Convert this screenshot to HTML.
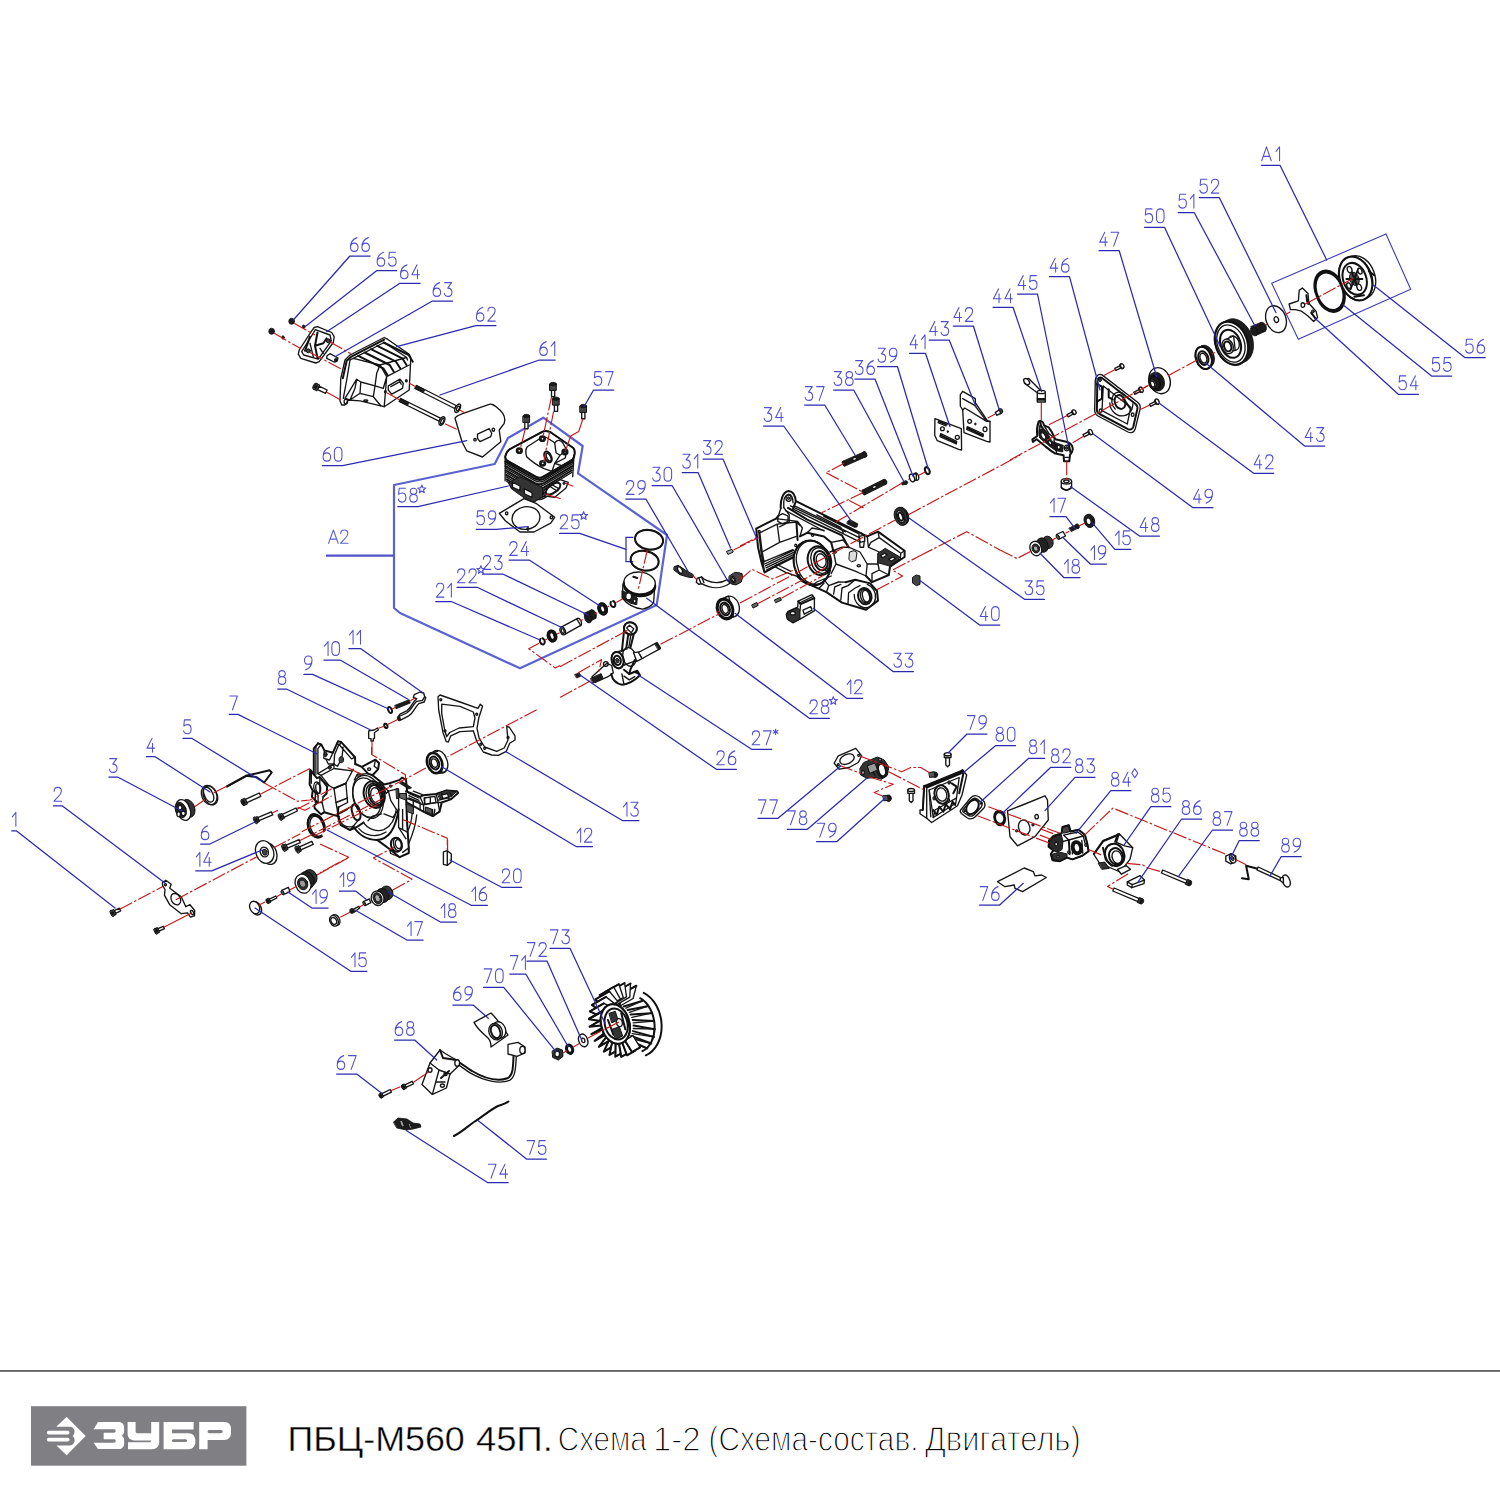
<!DOCTYPE html>
<html><head><meta charset="utf-8"><title>ПБЦ-М560 45П</title>
<style>
html,body{margin:0;padding:0;background:#fff;}
body{width:1500px;height:1500px;overflow:hidden;position:relative;font-family:"Liberation Sans",sans-serif;}
svg{position:absolute;left:0;top:0;}
.pt path{stroke-linejoin:round;stroke-linecap:round}
.w{fill:#fff;stroke:#151515;stroke-width:1.35}
.w2{fill:#fff;stroke:#111;stroke-width:2}
.fw{fill:#fff;stroke:none}
.f{fill:#1c1c1c;stroke:#111;stroke-width:.8}
.k{fill:none;stroke:#151515;stroke-width:1.35}
.k2{fill:none;stroke:#111;stroke-width:2}
.c{stroke:#111;stroke-width:1}
.r{fill:none;stroke:#c41a1a;stroke-width:1.15;stroke-dasharray:14 2.2 2.5 2.2;stroke-linecap:butt !important}
.rs{fill:none;stroke:#c41a1a;stroke-width:1.15;stroke-linecap:butt !important}
.ft{position:absolute;left:290px;top:1416px;white-space:nowrap;font-size:37px;line-height:44px;color:#000;transform-origin:0 0;}
.ft .a{display:inline-block;transform-origin:0 50%;}
.ft .b{display:inline-block;color:#111;-webkit-text-stroke:1.5px #fff;transform-origin:0 50%;}
</style></head><body>
<svg width="1500" height="1500" viewBox="0 0 1500 1500">
<defs>
<path id="g0" d="M4.5,0 C1.8,0 0.3,1.8 0.3,4.5 L0.3,9.5 C0.3,12.2 1.8,14 4.5,14 C7.2,14 8.7,12.2 8.7,9.5 L8.7,4.5 C8.7,1.8 7.2,0 4.5,0 Z"/>
<path id="g1" d="M0.3,4.6 L4.3,0 L4.3,14"/>
<path id="g2" d="M0.5,3.8 C0.5,1.5 2,0 4.5,0 C7,0 8.5,1.5 8.5,3.8 C8.5,6 7,7.5 5,9.3 L0.3,14 L8.7,14"/>
<path id="g3" d="M0.5,0 L8.3,0 L4,5.6 C7,5.6 8.7,7.2 8.7,9.8 C8.7,12.4 7,14 4.5,14 C2,14 0.5,12.6 0.3,10.8"/>
<path id="g4" d="M6,0 L0.3,10 L8.7,10 M6.5,5 L6.5,14"/>
<path id="g5" d="M8,0 L1.2,0 L0.6,6.2 C1.8,5.2 3,4.8 4.5,4.8 C7,4.8 8.7,6.6 8.7,9.4 C8.7,12.2 7,14 4.5,14 C2.2,14 0.6,12.8 0.3,11"/>
<path id="g6" d="M7.5,0 C3,1.5 0.3,5 0.3,9.8 C0.3,12.4 2,14 4.5,14 C7,14 8.7,12.4 8.7,9.8 C8.7,7.2 7,5.6 4.5,5.6 C2,5.6 0.3,7.2 0.3,9.8"/>
<path id="g7" d="M0.3,0 L8.7,0 L3.2,14"/>
<path id="g8" d="M4.5,0 C2.2,0 0.9,1.3 0.9,3.1 C0.9,4.9 2.2,6.2 4.5,6.2 C6.8,6.2 8.1,4.9 8.1,3.1 C8.1,1.3 6.8,0 4.5,0 Z M4.5,6.2 C1.9,6.2 0.3,7.8 0.3,10.1 C0.3,12.4 1.9,14 4.5,14 C7.1,14 8.7,12.4 8.7,10.1 C8.7,7.8 7.1,6.2 4.5,6.2 Z"/>
<path id="g9" d="M1.5,14 C6,12.5 8.7,9 8.7,4.2 C8.7,1.6 7,0 4.5,0 C2,0 0.3,1.6 0.3,4.2 C0.3,6.8 2,8.4 4.5,8.4 C7,8.4 8.7,6.8 8.7,4.2"/>
<path id="gA" d="M0,14 L5.3,0 L10.6,14 M1.7,9.6 L8.9,9.6"/>
<polygon id="gs" points="0,-4.2 1.1,-1.5 4,-1.3 1.7,0.6 2.5,3.4 0,1.8 -2.5,3.4 -1.7,0.6 -4,-1.3 -1.1,-1.5"/>
<path id="ga" d="M0,-2.6 L0,2.6 M-2.3,-1.3 L2.3,1.3 M-2.3,1.3 L2.3,-1.3"/>
<path id="gd" d="M0,-4.5 L3,0 L0,4.5 L-3,0 Z"/>
</defs>
<polygon fill="none" stroke="#3c3cb8" stroke-width="1.1" points="1271.7,283.3 1386,234 1410.7,289.3 1298.3,339.3"/>
<polygon fill="none" stroke="#5a62d2" stroke-width="2.2" stroke-linejoin="round" points="394,485 494.7,464 508,438 543.3,417.7 582.7,446 578,473.3 667,535 656.7,605 520,668.3 400,613 394,608"/>
<path fill="none" stroke="#5052c8" stroke-width="2.2" d="M326,555.7 L394,555.7"/>
<g fill="none" stroke="#5a62d2" stroke-width="1.2" stroke-linecap="round" stroke-linejoin="round"><use href="#gA" transform="translate(328.6,530) scale(0.900,0.950)"/><use href="#g2" transform="translate(340.2,530) scale(0.900,0.950)"/></g>
<path fill="none" stroke="#2a2ab0" stroke-width="1.2" d="M633.3,537.3 L626,537.3 L626,561.7 L633.3,561.7"/>

<g class="pt"><path class="w" d="M115.6,913.3 L120.7,910.8 L119.3,908.2 L114.3,910.6Z"/>
<path class="c" d="M113.4,915.9 L116.2,914.5 L113.7,909.4 L110.9,910.8Z" fill="#444"/>
<path class="c" d="M113.6,912.6 A1.6,2.8 -26.1 1 1 110.8,914 A1.6,2.8 -26.1 1 1 113.6,912.6 Z" fill="#555"/>
<path class="f" d="M112.9,913 A0.8,1.6 -26.1 1 1 111.4,913.7 A0.8,1.6 -26.1 1 1 112.9,913 Z"/>
<path class="w" d="M159.1,931.2 L164.4,928.7 L163.3,926.3 L157.9,928.7Z"/>
<path class="c" d="M156.9,933.6 L159.6,932.4 L157.4,927.5 L154.7,928.7Z" fill="#444"/>
<path class="c" d="M157.2,930.6 A1.5,2.7 -24.6 1 1 154.5,931.8 A1.5,2.7 -24.6 1 1 157.2,930.6 Z" fill="#555"/>
<path class="f" d="M156.6,930.8 A0.8,1.5 -24.6 1 1 155.1,931.5 A0.8,1.5 -24.6 1 1 156.6,930.8 Z"/>
<path class="w" d="M162.5,882.5 L165.8,880.3 L171.2,884.2 L169.7,888.3 L181.3,896.7 L185.8,906.7 L190,904.7 L194.7,910.5 L194.5,915.8 L190.3,917 L187.5,912.8 L181.3,913.7 L169.7,904.7 L164.5,895.3 L165,889.5 L162.5,885.3Z"/>
<path class="k" d="M179.7,896.9 A4.5,6 -30 1 1 171.9,901.4 A4.5,6 -30 1 1 179.7,896.9 Z M166.5,884.7 A1,1 0 1 1 164.5,884.7 A1,1 0 1 1 166.5,884.7 Z M193.3,911.8 A1.3,2.3 -30 1 1 191,913.2 A1.3,2.3 -30 1 1 193.3,911.8 Z"/>
<path class="c" d="M194.3,806.2 A6.3,9.2 -20 1 1 182.4,810.5 A6.3,9.2 -20 1 1 194.3,806.2 Z" fill="#333"/>
<path class="w" d="M189.6,807.7 A6.7,9.7 -20 1 1 177.1,812.3 A6.7,9.7 -20 1 1 189.6,807.7 Z"/>
<path class="c" d="M185.8,808.2 A5.3,8 -20 1 1 175.8,811.8 A5.3,8 -20 1 1 185.8,808.2 Z" fill="#222"/>
<path class="w" d="M182,807.5 A2,2.3 0 1 1 178,807.5 A2,2.3 0 1 1 182,807.5 Z"/>
<path class="w" d="M185.3,813.3 A2,2.3 0 1 1 181.3,813.3 A2,2.3 0 1 1 185.3,813.3 Z"/>
<path class="w" d="M180.3,814.2 A1.7,2 0 1 1 177,814.2 A1.7,2 0 1 1 180.3,814.2 Z"/>
<path class="w" d="M215.8,791.9 A7.3,10 -25 1 1 202.5,798.1 A7.3,10 -25 1 1 215.8,791.9 Z"/>
<path class="k" d="M216.4,792.5 A6.7,9.3 -25 1 1 204.3,798.2 A6.7,9.3 -25 1 1 216.4,792.5 Z M212.4,792.9 A4.2,6.7 -25 1 1 204.9,796.4 A4.2,6.7 -25 1 1 212.4,792.9 Z"/>
<path class="k2" d="M226.7,786.3 L245.8,775.8 L269.7,770.3 L271.7,772.5 L264.2,782.5 L256.7,777.2 L245.8,775.8"/>
<path class="k" d="M227,787 L246.2,776.5"/>
<path class="w" d="M246.9,802.7 L260.8,796.3 L259.2,793 L245.4,799.4Z"/>
<path class="c" d="M244.3,805.4 L247.5,803.9 L244.8,798.2 L241.7,799.6Z" fill="#444"/>
<path class="c" d="M244.6,801.8 A1.7,3.2 -24.7 1 1 241.4,803.2 A1.7,3.2 -24.7 1 1 244.6,801.8 Z" fill="#555"/>
<path class="f" d="M243.9,802.1 A1,1.7 -24.7 1 1 242.1,802.9 A1,1.7 -24.7 1 1 243.9,802.1 Z"/>
<path class="w" d="M259,820.7 L272.7,814.9 L271.3,811.8 L257.7,817.6Z"/>
<path class="c" d="M256.6,822.9 L259.5,821.7 L257.3,816.5 L254.4,817.7Z" fill="#444"/>
<path class="c" d="M256.9,819.7 A1.6,2.8 -23 1 1 254.1,820.9 A1.6,2.8 -23 1 1 256.9,819.7 Z" fill="#555"/>
<path class="f" d="M256.3,820 A0.8,1.6 -23 1 1 254.7,820.7 A0.8,1.6 -23 1 1 256.3,820 Z"/>
<path class="w" d="M283.9,817.4 L297.4,811 L296,808 L282.4,814.3Z"/>
<path class="c" d="M281.5,819.7 L284.4,818.4 L282,813.3 L279.1,814.6Z" fill="#444"/>
<path class="c" d="M281.7,816.5 A1.6,2.8 -25.1 1 1 278.9,817.8 A1.6,2.8 -25.1 1 1 281.7,816.5 Z" fill="#555"/>
<path class="f" d="M281.1,816.8 A0.8,1.6 -25.1 1 1 279.6,817.5 A0.8,1.6 -25.1 1 1 281.1,816.8 Z"/>
<path class="w" d="M287.5,848.2 L300.3,842.7 L299,839.6 L286.2,845.2Z"/>
<path class="c" d="M285,850.8 L288.1,849.4 L285.7,843.9 L282.6,845.2Z" fill="#444"/>
<path class="c" d="M285.3,847.3 A1.7,3 -23.3 1 1 282.3,848.7 A1.7,3 -23.3 1 1 285.3,847.3 Z" fill="#555"/>
<path class="f" d="M284.7,847.6 A0.9,1.7 -23.3 1 1 283,848.4 A0.9,1.7 -23.3 1 1 284.7,847.6 Z"/>
<path class="w" d="M300.9,849.8 L313.2,844.4 L311.8,841.3 L299.5,846.8Z"/>
<path class="c" d="M298.4,852.4 L301.4,851.1 L299,845.6 L295.9,846.9Z" fill="#444"/>
<path class="c" d="M298.7,849 A1.7,3 -24 1 1 295.7,850.3 A1.7,3 -24 1 1 298.7,849 Z" fill="#555"/>
<path class="f" d="M298,849.3 A0.9,1.7 -24 1 1 296.3,850 A0.9,1.7 -24 1 1 298,849.3 Z"/>
<path class="k2" d="M321.9,836.2 A8,12 -18 1 1 324.7,830.4"/>
<path class="k" d="M321.7,835.1 A6.7,10.3 -18 1 1 324,830.1"/>
<path class="w" d="M276.2,850.9 A8,11 -20 1 1 261.1,856.4 A8,11 -20 1 1 276.2,850.9 Z"/>
<path class="w" d="M272.8,849 A8.7,11 -20 1 1 256.5,855 A8.7,11 -20 1 1 272.8,849 Z"/>
<path class="k" d="M268.1,850.6 A4,5 -20 1 1 260.6,853.4 A4,5 -20 1 1 268.1,850.6 Z"/>
<path class="c" d="M266.9,851.4 A2.3,3 -20 1 1 262.5,853 A2.3,3 -20 1 1 266.9,851.4 Z" fill="#444"/>
<path class="c" d="M316.6,875.1 A7,8 -20 1 1 303.4,879.9 A7,8 -20 1 1 316.6,875.1 Z" fill="#333"/>
<path class="c" d="M313.7,877.8 A7.5,8.7 -20 1 1 299.6,882.9 A7.5,8.7 -20 1 1 313.7,877.8 Z" fill="#222"/>
<path class="w" d="M310,881.1 A7.5,8.7 -20 1 1 296,886.2 A7.5,8.7 -20 1 1 310,881.1 Z"/>
<path class="c" d="M307.4,882 A5,6 -20 1 1 298,885.4 A5,6 -20 1 1 307.4,882 Z" fill="#333"/>
<path class="c" d="M305.5,882.6 A3,3.7 -20 1 1 299.8,884.7 A3,3.7 -20 1 1 305.5,882.6 Z" fill="#999"/>
<path class="w" d="M281.7,890.3 L288.3,887.3 L290,891.7 L283.3,894.7Z"/>
<path class="c" d="M283.7,891.9 A1.3,2.2 -25 1 1 281.3,893.1 A1.3,2.2 -25 1 1 283.7,891.9 Z" fill="#555"/>
<path class="w" d="M270.3,901.3 L276.8,898 L275.8,896 L269.3,899.2Z"/>
<path class="c" d="M268.5,903.4 L270.8,902.3 L268.8,898.1 L266.5,899.2Z" fill="#444"/>
<path class="c" d="M268.7,900.8 A1.3,2.3 -26.1 1 1 266.3,901.9 A1.3,2.3 -26.1 1 1 268.7,900.8 Z" fill="#555"/>
<path class="f" d="M268.1,901 A0.7,1.3 -26.1 1 1 266.9,901.6 A0.7,1.3 -26.1 1 1 268.1,901 Z"/>
<path class="w" d="M260.6,906.4 A4.7,6.3 -25 1 1 252.1,910.3 A4.7,6.3 -25 1 1 260.6,906.4 Z"/>
<path class="w" d="M258.9,905.5 A4.7,6.3 -25 1 1 250.4,909.5 A4.7,6.3 -25 1 1 258.9,905.5 Z"/>
<path class="k2" d="M318.1,743.4 L313.8,748.4 L313.8,774.4 L317,778.2 L319.8,777 L327.2,786.7 L326.6,793.5 L323.2,796.9"/>
<path class="k" d="M321,744.7 L317.9,748.7 L317.9,773.6 L321,775.3 L328.9,785.5 M315.9,745.9 L315.9,774.2"/>
<path class="k2" d="M318.1,743.4 L321.3,744.5 L324.4,750.4 L332.9,752.7 L338,741.3 L341,741.9 L355,757.2 L355.3,764"/>
<path class="k" d="M324.4,750.4 L323.8,758.3 L329.5,760 L332.9,752.7 M339.1,744.2 L334.6,754.4 L334,764 L337.4,766.3 L341.9,758.3 L343.1,747 M341,741.9 L339.7,745.3 L351.6,758.9 L355,757.2 M338,741.3 L336.5,744.5 L339.1,744.2"/>
<path class="k2" d="M355.3,764 L361.8,766.8 L375.4,759.7 L379,763.1 L378.2,769.1 L372.5,775.3 L368,773.6 L361.8,766.8"/>
<path class="k" d="M375.4,759.7 L374.2,766.3 L378.2,769.1 M370.5,769.1 A1.4,1 0 1 1 367.8,769.1 A1.4,1 0 1 1 370.5,769.1 Z"/>
<path class="c" d="M343.6,759.7 A2.3,2.5 0 1 1 339.1,759.7 A2.3,2.5 0 1 1 343.6,759.7 Z" fill="#444"/>
<path class="c" d="M331.3,767.4 A1.6,1.8 0 1 1 328.1,767.4 A1.6,1.8 0 1 1 331.3,767.4 Z" fill="#444"/>
<path class="c" d="M327.1,754.4 A1.6,2.3 0 1 1 323.9,754.4 A1.6,2.3 0 1 1 327.1,754.4 Z" fill="#333"/>
<path class="k2" d="M313.8,774.4 L310.2,769.7 L309.6,784.4 L312.7,790.6 L311.9,796.9 L317.6,802.5 L314.2,805.4 L314.7,808.2 L321,814.4 L324.4,812.2 L337.4,816.1"/>
<path class="k" d="M312.7,790.6 L318.1,795.2 L318.1,802.5 M320.6,787.2 A3.4,5.9 -10 1 1 313.9,788.4 A3.4,5.9 -10 1 1 320.6,787.2 Z M320.4,788 A2.3,4.3 -10 1 1 315.9,788.8 A2.3,4.3 -10 1 1 320.4,788 Z M323.2,796.9 L322.1,802.5 L324.4,812.2 M318.1,802.5 L322.1,802.5 M328.9,785.5 L334,788.4 L345.9,783.3 L353.3,769.1 M334,788.4 L336,802.5 L338,814.4 M345.9,783.3 L347.6,802.5 L338.5,807.1 M317.9,773.6 L334,764 M321,775.3 L334,768.5 L352.1,770.8 M321,779.9 L328.9,785.5 M334,768.5 L334,764"/>
<path class="w" d="M381.5,792.5 A14.2,21 -18 1 1 354.5,801.2 A14.2,21 -18 1 1 381.5,792.5 Z"/>
<path class="k" d="M379.6,793.4 A13.4,20.2 -18 1 1 354.1,801.7 A13.4,20.2 -18 1 1 379.6,793.4 Z"/>
<path class="k2" d="M383.9,791.4 A10.2,13.6 -18 1 1 364.5,797.8 A10.2,13.6 -18 1 1 383.9,791.4 Z"/>
<path class="k" d="M382.8,792.2 A8.4,11.6 -18 1 1 366.8,797.4 A8.4,11.6 -18 1 1 382.8,792.2 Z"/>
<path class="k2" d="M382,793.1 A6.6,9.6 -18 1 1 369.5,797.2 A6.6,9.6 -18 1 1 382,793.1 Z"/>
<path class="k" d="M381.1,793.9 A5.2,7.9 -18 1 1 371.2,797.1 A5.2,7.9 -18 1 1 381.1,793.9 Z"/>
<path class="k2" d="M372.5,775.3 L383.9,784.4 L389.5,783.3 L399.7,779.9 L402,777.6 L406,779.9 L407.1,791.2"/>
<path class="k" d="M379.3,782.1 L388.4,791.2 L397.5,788.9 L398.6,793.5 L398.6,809.3 L392.9,817.3 M361.2,774.2 L368,773.6 M356.7,775.3 L358.9,773.1 L363.5,775.3 M391.8,786.1 A1.1,1 0 1 1 389.5,786.1 A1.1,1 0 1 1 391.8,786.1 Z"/>
<path class="c" d="M360.5,775.3 A1.6,1.6 0 1 1 357.3,775.3 A1.6,1.6 0 1 1 360.5,775.3 Z" fill="#555"/>
<path class="k" d="M 339.1,816.1 C 339.7,824.1 345.3,828.6 353.3,826.3"/>
<path class="k2" d="M 338.5,807.1 C 337.2,811.6 338,820.7 340.8,825.2 L 349.9,830 C 356.7,827.7 361.2,824.3 363.5,822.4 M 353.3,826.3 C 358.9,835.4 368,840.2 377.1,839.9 C 386.1,839.4 395.2,832 398.6,809.3"/>
<path class="k" d="M 363.5,822.4 C 368,829.7 377.1,832.2 383.9,829.7 C 390.7,826.3 395.2,818.4 396.3,809.3 M 358.9,828.6 C 365.7,836.5 377.1,837.7 386.1,832"/>
<path class="k2" d="M359.8,811.2 A3.9,7 -15 1 1 352.4,813.2 A3.9,7 -15 1 1 359.8,811.2 Z"/>
<path class="k" d="M353.3,805.7 L339.7,812.7 M359.5,818.6 L350.4,829.7"/>
<path class="k2" d="M377.1,839.9 L389.5,849 L399.7,857.2 L408.8,853 L408.8,847.9 L407.1,822.9 L406,793.5 M401.6,843.3 A5.4,7 -15 1 1 391.1,846.1 A5.4,7 -15 1 1 401.6,843.3 Z"/>
<path class="k" d="M401.5,843.2 A4,5.7 -15 1 1 393.9,845.3 A4,5.7 -15 1 1 401.5,843.2 Z M401.2,843.3 A2.9,4.5 -15 1 1 395.5,844.8 A2.9,4.5 -15 1 1 401.2,843.3 Z M389.5,849 L390.7,853.5 L399.7,857.2 M402.6,852.4 L408.8,847.9 M402.6,809.3 L402.6,829.7 L407.1,832 M398.6,809.3 L398.6,827.5 L406,838.8 M398.6,827.5 L402.6,829.7"/>
<path class="k2" d="M406,791.2 L420.1,796.9 L423.5,795.2 L436,794 L446.2,790.6 L457,791.2 L458.1,792.9 L450.7,799.4 L441.7,802.5 L439.6,811.6 L432.6,816.1 L423.8,811.8 L407.1,802.5"/>
<path class="k" d="M406,798 L423.5,804.8 L436,802.5 L441.7,802.5 M423.5,804.8 L423.8,811.8 M420.1,796.9 L423.5,804.8 M436,794 L437.7,800.3 L447.3,798 L446.2,790.6 M428.1,808.2 L428.1,813.9 M432.6,809.3 L432.6,816.1 M437.7,800.3 L439.6,811.6 M447.3,798 L450.7,799.4 M 416.7,815 C 415.6,826.3 412.2,835.4 408.8,843.3 M 412.2,813.3 C 411.6,820.7 409.9,827.5 407.1,832"/>
<path class="f" d="M399.7,783.3 L408.8,788.9 L411.6,787.8 L402.6,781.6Z"/>
<path class="c" d="M437.7,793.5 L446.2,790.1 L456.4,791.8 L450.7,796.9 L440,799.1Z" fill="#333"/>
<path class="c" d="M396.3,788.9 L398.6,788.4 L399.2,798 L396.9,798.6Z" fill="#444"/>
<path class="w" d="M424.1,798 L434.9,796.3 L436,802.5 L424.7,804.2Z"/>
<path class="c" d="M425.8,807.1 L432,809.3 L432,814.4 L425.8,811.8Z" fill="#555"/>
<path class="k" d="M408.8,793.5 L419,798 M408.8,795.7 L419,800.3 M413.3,791.2 L422.4,794.6 M382.7,784.4 L386.1,793.5 L388.4,791.2 M354.4,779.9 L356.7,775.3 M311.3,771.4 L311.3,783.3 M315.3,792.3 L315.3,802.5 M319.8,777.6 L319.8,793.5 M326.1,759.5 L328.3,764 L334,764"/>
<path class="k2" d="M334,788.4 L345.9,783.3"/>
<path class="k" d="M336,802.5 L347.6,798 M338,814.4 L347.6,809.3 M408.8,798 L420.1,802.5 L420.1,809.3 M413.3,800.3 L413.3,809.3 M424.7,798 L424.7,804.2 M430.3,797.1 L430.3,803.4 M441.7,793.5 L443.9,798 M449.6,792.3 L451.9,795.7 M433.7,816.1 L434.9,809.3"/>
<path class="w" d="M441.7,795.2 L447.3,793.5 L448.7,796.9 L443,798.6Z"/>
<path class="c" d="M406.5,803.7 L413.3,807.1 L413.3,813.9 L407.1,811.6Z" fill="#555"/>
<path class="c" d="M399.7,793.5 L406,793.5 L406.5,800.3 L400.3,798Z" fill="#666"/>
<path class="k" d="M388.4,791.2 L390.7,800.3 L396.3,809.3 M383.9,813.9 L392.9,817.3 M368,820.7 L372.5,816.1 L381.6,813.9"/>
<path class="w" d="M446.6,759.1 A7.7,10.8 -20 1 1 432.2,764.4 A7.7,10.8 -20 1 1 446.6,759.1 Z"/>
<path class="w" d="M442.1,760.4 A7.9,11 -20 1 1 427.2,765.8 A7.9,11 -20 1 1 442.1,760.4 Z"/>
<path class="k2" d="M441.2,760.7 A7,10 -20 1 1 428,765.5 A7,10 -20 1 1 441.2,760.7 Z M438.7,761.5 A4.5,6.6 -20 1 1 430.2,764.6 A4.5,6.6 -20 1 1 438.7,761.5 Z"/>
<path class="k" d="M437.2,762.1 A2.9,4.3 -20 1 1 431.6,764.1 A2.9,4.3 -20 1 1 437.2,762.1 Z M432,752.7 L437.7,751.3 M437.7,773.6 L443,771.9"/>
<path class="w" d="M443.4,851.8 L447.3,850.7 L451.3,854.1 L451.3,862 L447.3,865.4 L443.4,864.3Z"/>
<path class="k" d="M447.3,850.7 L447.3,865.4"/>
<path class="k2" d="M320.6,836.5 A7.7,11.3 -18 1 1 323.7,831.4"/>
<path class="w" d="M368.7,730.8 L374.2,730 L377.5,728 L378.3,730 L374.5,732.5 L374.5,738.3 L373.3,738.7 L373.3,741 L371,741 L371,738.7 L368.7,738.3Z"/>
<path class="k2" d="M391.5,709.3 A1.7,2.5 -25 1 1 388.5,710.7 A1.7,2.5 -25 1 1 391.5,709.3 Z M387.2,725.2 A1.5,2.2 -25 1 1 384.5,726.5 A1.5,2.2 -25 1 1 387.2,725.2 Z"/>
<path class="f" d="M395,705.3 L409.2,699.7 L410.3,703 L396.3,708.7Z"/>
<path class="w" d="M 398,717 L 406.7,713 C 411.7,710 413.3,704.2 416.7,701.3 L 422.5,700.3 L 424.7,696.7 L 423.7,693 L 420,692 L 414.2,694.7 L 413.3,697.5 L 416.7,698.7 C 412,702.5 410.8,708.3 406.7,710.8 L 400,714.2 Z"/>
<path class="k" d="M 398,717 L 400,720.3 L 408.7,715.8 C 414.2,712.5 415,706.7 418.7,703.7 L 424.2,702 L 425.8,697.5 L 424.7,696.7 M400.1,718.2 A1.2,1.8 -25 1 1 397.9,719.2 A1.2,1.8 -25 1 1 400.1,718.2 Z"/>
<path class="w" d="M438,696.7 L440,695 L460,702 L478,708.3 L480.3,704.2 L482.5,706.3 L478.7,718.3 L477,728.3 L479.2,738.3 L484.7,747 L496.7,751.3 L504.2,748 L508,740 L506.7,726.7 L509.2,727 L515,735.8 L515,740 L509.7,743.3 L506.3,751.3 L498.3,755.3 L491.7,755 L483.3,752 L477,742 L473.3,730.8 L460,731.7 L450.8,735.8 L448.3,742 L446.3,741.7 L443,732.5 L438.7,710Z"/>
<path class="w" d="M441.7,704.2 L460,706.3 L473.3,712 L475,718 L473.3,726.7 L459.2,728 L449.7,732.5 L446.7,736.7 L444.7,730 L441.7,713.3Z"/>
<path class="k" d="M441.8,699.7 A1,1 0 1 1 439.8,699.7 A1,1 0 1 1 441.8,699.7 Z M477.7,714.2 A1,1 0 1 1 475.7,714.2 A1,1 0 1 1 477.7,714.2 Z M446,730.8 A1,1 0 1 1 444,730.8 A1,1 0 1 1 446,730.8 Z M481.8,744.2 A1,1 0 1 1 479.8,744.2 A1,1 0 1 1 481.8,744.2 Z M485.7,748.3 A1,1 0 1 1 483.7,748.3 A1,1 0 1 1 485.7,748.3 Z M509,737.5 A1,1 0 1 1 507,737.5 A1,1 0 1 1 509,737.5 Z"/>
<path class="c" d="M392.5,890.9 A5.9,6.9 -20 1 1 381.4,894.9 A5.9,6.9 -20 1 1 392.5,890.9 Z" fill="#333"/>
<path class="c" d="M388.6,893.2 A6.2,7.2 -20 1 1 376.9,897.5 A6.2,7.2 -20 1 1 388.6,893.2 Z" fill="#222"/>
<path class="w" d="M383.5,896.1 A6.2,7.2 -20 1 1 371.7,900.4 A6.2,7.2 -20 1 1 383.5,896.1 Z"/>
<path class="c" d="M381.5,896.8 A4.2,5 -20 1 1 373.7,899.7 A4.2,5 -20 1 1 381.5,896.8 Z" fill="#333"/>
<path class="c" d="M379.9,897.4 A2.5,3.1 -20 1 1 375.3,899.1 A2.5,3.1 -20 1 1 379.9,897.4 Z" fill="#aaa"/>
<path class="w" d="M363.3,901.6 L369.3,898.9 L370.9,902.7 L365.1,905.6Z"/>
<path class="c" d="M365.2,903.1 A1.1,1.9 -25 1 1 363.3,904.1 A1.1,1.9 -25 1 1 365.2,903.1 Z" fill="#555"/>
<path class="f" d="M354.3,910.9 A2.3,2.5 0 1 1 349.7,910.9 A2.3,2.5 0 1 1 354.3,910.9 Z"/>
<path class="w" d="M353.6,909.1 L358.9,906.4 L359.7,908 L354.4,912Z"/>
<path class="w" d="M339.2,918.3 A4,5.1 -25 1 1 332,921.7 A4,5.1 -25 1 1 339.2,918.3 Z"/>
<path class="w" d="M337.6,919.1 A4,5.1 -25 1 1 330.4,922.5 A4,5.1 -25 1 1 337.6,919.1 Z"/>
<path class="k" d="M336.2,919.8 A2.7,3.6 -25 1 1 331.3,922.1 A2.7,3.6 -25 1 1 336.2,919.8 Z"/>
<path class="f" d="M294.5,321.3 A2.8,3 0 1 1 288.8,321.3 A2.8,3 0 1 1 294.5,321.3 Z"/>
<path class="f" d="M274.5,331.3 A2.8,3 0 1 1 268.8,331.3 A2.8,3 0 1 1 274.5,331.3 Z"/>
<path class="f" d="M305,326.7 A1.3,1.7 0 1 1 302.3,326.7 A1.3,1.7 0 1 1 305,326.7 Z"/>
<path class="f" d="M284.3,337.5 A1.3,1.7 0 1 1 281.7,337.5 A1.3,1.7 0 1 1 284.3,337.5 Z"/>
<path class="w" d="M314.2,327.5 L317.5,326.7 L331.7,332.5 L334.2,336.7 L333.3,342.5 L319.2,361.7 L315.8,363 L300.8,358.3 L298.3,354.2 L299.2,350 L311.7,330.8Z"/>
<path class="k" d="M315.3,329.7 L330,335 L331.3,340.8 L318.3,359.2 L303.7,355 L301.7,351.7 L313.7,332.5Z"/>
<path class="c" d="M330.3,340.8 A2,2 0 1 1 326.3,340.8 A2,2 0 1 1 330.3,340.8 Z" fill="#444"/>
<path class="c" d="M310.3,350.8 A2,2 0 1 1 306.3,350.8 A2,2 0 1 1 310.3,350.8 Z" fill="#444"/>
<path class="k2" d="M317.5,332.5 L315,345.8 L323.3,343.3 L326.7,338.3 M315,345.8 L317.5,358.3"/>
<path class="k" d="M310,343.3 L313.3,356.7 M320,348.3 L323.3,353.3"/>
<path class="k2" d="M310,336.7 L305,350.8"/>
<path class="w" d="M327,355.8 L330,353.7 L338,358 L337,361.3 L334.2,362 L326.7,358.3Z"/>
<path class="f" d="M337.2,360 A1.3,1.7 0 1 1 334.5,360 A1.3,1.7 0 1 1 337.2,360 Z"/>
<path class="w" d="M340.8,378.3 L345,360 L350,355 L384.2,337.5 L387.5,339.2 L409.2,354.2 L410.8,358.3 L409.2,390 L384.2,406.7 L380.8,405.8 L360,400.8 L348.3,400 L345,405 L341.7,405 L340,400.8Z"/>
<path class="k2" d="M342.8,378.3 L346.7,360.8 L351.3,356.7 L384.2,339.7"/>
<path class="k" d="M350,360 L353.3,358.3 L384.2,342.5 L406.7,357.5 L407.5,360 M353.3,358.3 L380,365 L386.7,376.7 L384.2,406.7 M380,365 L406.7,357.5 M386.7,376.7 L409.2,365 M383.3,388.3 L386.7,376.7"/>
<path class="k2" d="M358.3,355.8 L383.3,368.3 L387.5,375 M364.7,352.5 L389.7,365 L393.8,371.7 M371,349.2 L396,361.7 L400.2,368.3 M377.3,345.8 L402.3,358.3 L406.5,365 M383.7,342.5 L408.7,355 L412.8,361.7"/>
<path class="k" d="M350,360 L346.7,380 L343.3,398.3 M345,398.3 L356.7,379.2 L360.8,382 L360,393.3 L350,400Z M356.7,379.2 L355,388.3 L350,400 M360,393.3 L373.3,396.7 L380.8,405.8 M360.8,382 L375,385.8 L383.3,388.3 M373.3,396.7 L375,385.8 L376.7,373.3 L380,365"/>
<path class="w" d="M388.3,385.8 L400,379.2 L403.3,383.3 L402.5,388.3 L391.7,394.2 L388.3,390Z"/>
<path class="k" d="M390.8,386.7 L400,381.7 L401.3,384.2 M407.2,380.8 A0.8,1 0 1 1 405.5,380.8 A0.8,1 0 1 1 407.2,380.8 Z M386.2,391.7 A0.8,1 0 1 1 384.5,391.7 A0.8,1 0 1 1 386.2,391.7 Z M347.5,401.7 A1.7,2 0 1 1 344.2,401.7 A1.7,2 0 1 1 347.5,401.7 Z M367.8,400.8 A2,0.8 0 1 1 363.8,400.8 A2,0.8 0 1 1 367.8,400.8 Z"/>
<path class="w" d="M317.5,389.6 L325.6,393.3 L327.1,390 L319.1,386.2Z"/>
<path class="c" d="M313.6,389.3 L316.9,390.9 L319.7,384.9 L316.4,383.3Z" fill="#444"/>
<path class="c" d="M316.7,387.1 A1.8,3.3 25.2 1 1 313.3,385.6 A1.8,3.3 25.2 1 1 316.7,387.1 Z" fill="#555"/>
<path class="f" d="M315.9,386.8 A1,1.8 25.2 1 1 314.1,385.9 A1,1.8 25.2 1 1 315.9,386.8 Z"/>
<path class="w" d="M415.1,388.5 L454.6,408.5 L456.1,405.5 L416.6,385.5Z"/>
<path class="f" d="M415.1,388.5 L423.3,392.6 L424.8,389.7 L416.6,385.5Z"/>
<path class="w" d="M459.8,409.3 A2.3,4.5 25 1 1 455.6,407.3 A2.3,4.5 25 1 1 459.8,409.3 Z"/>
<path class="k" d="M459.1,409 A1.2,2.5 25 1 1 456.9,408 A1.2,2.5 25 1 1 459.1,409 Z"/>
<path class="w" d="M399.3,401.5 L438.9,421.2 L440.4,418.2 L400.7,398.5Z"/>
<path class="f" d="M399.3,401.5 L407.5,405.6 L409,402.6 L400.7,398.5Z"/>
<path class="w" d="M444.1,422 A2.3,4.5 25 1 1 439.9,420 A2.3,4.5 25 1 1 444.1,422 Z"/>
<path class="k" d="M443.4,421.7 A1.2,2.5 25 1 1 441.3,420.7 A1.2,2.5 25 1 1 443.4,421.7 Z M 455,418.3 C 455.8,415.8 460,414.7 463.3,413.3 L 489.2,404.3 C 492.5,403.3 495,405.8 500,410 C 504.2,414.2 505.8,418.3 504.2,423.3 L 499.2,430 L 500.8,441.7 L 482.5,457 L 466.7,450.8 L 462,441.7 Z"/>
<path class="w" d="M477.5,434.2 L489.2,428.7 L491.7,433.3 L490.8,436.7 L480,441.7 L477.5,438.3Z"/>
<path class="k" d="M476.2,439.7 A1.2,1.2 0 1 1 473.8,439.7 A1.2,1.2 0 1 1 476.2,439.7 Z M494.5,429.7 A1.2,1.2 0 1 1 492.2,429.7 A1.2,1.2 0 1 1 494.5,429.7 Z"/>
<path class="w" d="M551.5,390 L554.7,390 L554.7,396.7 L551.5,396.7Z"/>
<path class="c" d="M549.9,384 L556.3,384 L556.3,390.4 L549.9,390.4Z" fill="#444"/>
<path class="f" d="M556.3,384 A3.2,1.7 0 1 1 549.9,384 A3.2,1.7 0 1 1 556.3,384 Z"/>
<path class="w" d="M554.4,404.7 L557.6,404.7 L557.6,411.3 L554.4,411.3Z"/>
<path class="c" d="M552.8,398.7 L559.2,398.7 L559.2,405.1 L552.8,405.1Z" fill="#444"/>
<path class="f" d="M559.2,398.7 A3.2,1.7 0 1 1 552.8,398.7 A3.2,1.7 0 1 1 559.2,398.7 Z"/>
<path class="w" d="M524.8,422 L528,422 L528,428.7 L524.8,428.7Z"/>
<path class="c" d="M523.2,416 L529.6,416 L529.6,422.4 L523.2,422.4Z" fill="#444"/>
<path class="f" d="M529.6,416 A3.2,1.7 0 1 1 523.2,416 A3.2,1.7 0 1 1 529.6,416 Z"/>
<path class="w" d="M581.7,412 L584.9,412 L584.9,418.7 L581.7,418.7Z"/>
<path class="c" d="M580.1,406 L586.5,406 L586.5,412.4 L580.1,412.4Z" fill="#444"/>
<path class="f" d="M586.5,406 A3.2,1.7 0 1 1 580.1,406 A3.2,1.7 0 1 1 586.5,406 Z"/>
<path class="w" d="M 505.3,456.7 C 506,452 508,450 511.3,448.4 L 542.7,431.6 C 545.3,430.3 548,430.7 551.3,432.7 L 573.3,448 C 575.3,450 575.3,455.3 572.7,459.6 L 543.3,476.7 C 540.7,478.3 538,478 535.3,476.4 L 507.3,460.7 C 505.6,459.6 505.1,458.3 505.3,456.7 Z"/>
<path class="k2" d="M 505.3,456.7 C 506,452 508,450 511.3,448.4 L 542.7,431.6 C 545.3,430.3 548,430.7 551.3,432.7 L 573.3,448 C 575.3,450 575.3,455.3 572.7,459.6 L 543.3,476.7 C 540.7,478.3 538,478 535.3,476.4 L 507.3,460.7 C 505.6,459.6 505.1,458.3 505.3,456.7 Z M 505.1,461.7 L 534.9,478.7 C 538,480.4 540.7,480.4 543.7,478.8 L 572.8,461.7"/>
<path class="k" d="M 505.1,463.7 L 534.9,480.7 C 538,482.4 540.7,482.4 543.7,480.8 L 572.8,463.7"/>
<path class="k2" d="M 505.5,466.1 L 534.9,483.1 C 538,484.8 540.7,484.8 543.7,483.2 L 572.3,466.1"/>
<path class="k" d="M 505.5,468.1 L 534.9,485.1 C 538,486.8 540.7,486.8 543.7,485.2 L 572.3,468.1"/>
<path class="k2" d="M 505.9,470.5 L 534.9,487.5 C 538,489.2 540.7,489.2 543.7,487.6 L 571.7,470.5"/>
<path class="k" d="M 505.9,472.5 L 534.9,489.5 C 538,491.2 540.7,491.2 543.7,489.6 L 571.7,472.5"/>
<path class="k2" d="M 506.3,474.9 L 534.9,491.9 C 538,493.6 540.7,493.6 543.7,492 L 562.7,480.9"/>
<path class="k" d="M 506.3,476.9 L 534.9,493.9 C 538,495.6 540.7,495.6 543.7,494 L 562.7,482.9"/>
<path class="k2" d="M 506.7,479.3 L 534.9,496.3 C 538,498 540.7,498 543.7,496.4 L 552,491.3"/>
<path class="k" d="M 506.7,481.3 L 534.9,498.3 C 538,500 540.7,500 543.7,498.4 L 552,493.3 M505.3,456.7 L505.1,480.7 M574,455.3 L572.7,476.7"/>
<path class="c" d="M508.7,483.3 L511.3,488.7 L525.3,498.7 L534,502.3 L542.7,496.7 L542.7,487.3 L520,476.7Z" fill="#333"/>
<path class="w" d="M512,482 L520,486 L520,490.7 L512.7,487.3Z"/>
<path class="w" d="M524,488.7 L532,492.7 L532,497.3 L524.7,494Z"/>
<path class="w" d="M543.7,490.7 L560,479.6 L568.3,482.3 L566,488 L554.7,497.3 L545.3,496Z"/>
<path class="k2" d="M555.4,491.9 A4,7.7 55 1 1 550.8,485.4 A4,7.7 55 1 1 555.4,491.9 Z"/>
<path class="c" d="M565.1,483.3 A1.1,1.2 0 1 1 562.9,483.3 A1.1,1.2 0 1 1 565.1,483.3 Z" fill="#555"/>
<path class="c" d="M545.5,494 A1.1,1.2 0 1 1 543.3,494 A1.1,1.2 0 1 1 545.5,494 Z" fill="#555"/>
<path class="k" d="M549.3,486 L556.7,490.7 M550.7,484 L558.7,488.7 M 527.3,446.7 L 542,437.3 C 544,436.4 546.7,437.3 549.3,439.3 L 554.7,442.7 C 558,439.3 560,440 562.7,442.7 L 566.7,450 L 565.3,458 L 554.7,463.3 L 552,471.3 L 544,468.7 C 538.7,466 530.7,460.7 526.7,456.7 C 525.3,452.7 526,448.7 527.3,446.7 Z"/>
<path class="k2" d="M550.9,455.6 A3.2,5.6 -25 1 1 545.1,458.3 A3.2,5.6 -25 1 1 550.9,455.6 Z"/>
<path class="k" d="M550.4,456.5 A1.9,3.7 -25 1 1 547,458.1 A1.9,3.7 -25 1 1 550.4,456.5 Z M554.7,463.3 L560,455.3 L566.7,450 M554.7,442.7 L556,452.7 L560,455.3 M554.7,463.3 L562.7,466 L572,459.6 M522.3,450.7 A2.9,2.7 0 1 1 516.4,450.7 A2.9,2.7 0 1 1 522.3,450.7 Z M520.9,450.7 A1.6,1.5 0 1 1 517.7,450.7 A1.6,1.5 0 1 1 520.9,450.7 Z M545.3,438.7 A2.9,2.7 0 1 1 539.5,438.7 A2.9,2.7 0 1 1 545.3,438.7 Z M544,438.7 A1.6,1.5 0 1 1 540.8,438.7 A1.6,1.5 0 1 1 544,438.7 Z M567.9,452 A2.9,2.7 0 1 1 562,452 A2.9,2.7 0 1 1 567.9,452 Z M566.5,452 A1.6,1.5 0 1 1 563.3,452 A1.6,1.5 0 1 1 566.5,452 Z M545.6,463.3 A2.9,2.7 0 1 1 539.7,463.3 A2.9,2.7 0 1 1 545.6,463.3 Z M544.3,463.3 A1.6,1.5 0 1 1 541.1,463.3 A1.6,1.5 0 1 1 544.3,463.3 Z"/>
<path class="w" d="M499.3,513.3 L524,498.7 L536,503.3 L554.7,517.3 L550.7,523.1 L534,532 L520,532 L505.3,520.7Z"/>
<path class="k" d="M539.8,515.6 A14,11.3 -10 1 1 512.2,520.4 A14,11.3 -10 1 1 539.8,515.6 Z M507.7,513.3 A1.1,1.1 0 1 1 505.6,513.3 A1.1,1.1 0 1 1 507.7,513.3 Z M552.4,517.3 A1.1,1.1 0 1 1 550.3,517.3 A1.1,1.1 0 1 1 552.4,517.3 Z M529.1,528.9 A1.1,1.1 0 1 1 526.9,528.9 A1.1,1.1 0 1 1 529.1,528.9 Z"/>
<path class="k2" d="M663,542.2 A14.1,9.6 10 1 1 635.1,537.3 A14.1,9.6 10 1 1 663,542.2 Z M658.6,563.1 A14.1,9.6 10 1 1 630.7,558.2 A14.1,9.6 10 1 1 658.6,563.1 Z"/>
<path class="k" d="M662.7,542.1 A13.9,9.3 10 1 1 635.4,537.3 A13.9,9.3 10 1 1 662.7,542.1 Z M658.3,563.1 A13.9,9.3 10 1 1 631,558.3 A13.9,9.3 10 1 1 658.3,563.1 Z"/>
<path class="w" d="M 622.9,584 L 622.4,598 C 626.7,604 634.7,608.7 642.7,609.1 C 648,608 652,605.3 653.6,602.7 L 654.9,584.7 Z"/>
<path class="w" d="M655.3,584.3 A15.7,10.9 5 1 1 623.9,581.6 A15.7,10.9 5 1 1 655.3,584.3 Z"/>
<path class="k2" d="M655.3,585.4 A15.7,10.9 5 0 1 623.9,582.6 M655.3,586.7 A15.7,10.9 5 0 1 623.9,584"/>
<path class="c" d="M622.4,590.7 L637.3,598 L636.7,604.7 L630.7,603.3 L622.4,598Z" fill="#222"/>
<path class="w" d="M631.6,596.3 A2.9,3.5 0 1 1 625.7,596.3 A2.9,3.5 0 1 1 631.6,596.3 Z"/>
<path class="w" d="M636,601.1 A1.3,1.9 0 1 1 633.3,601.1 A1.3,1.9 0 1 1 636,601.1 Z"/>
<path class="k2" d="M633.3,576.7 L637.3,578 M613.1,601 A2.3,3.2 -20 1 1 610.9,601.8 M542.4,638.3 A2.3,3.2 -20 1 1 540.3,639.1"/>
<path class="w" d="M606.9,607.4 A4.5,5.9 -20 1 1 598.4,610.5 A4.5,5.9 -20 1 1 606.9,607.4 Z"/>
<path class="k2" d="M606.4,607.6 A4,5.3 -20 1 1 598.9,610.3 A4,5.3 -20 1 1 606.4,607.6 Z M604.8,608.2 A2.3,3.2 -20 1 1 600.5,609.7 A2.3,3.2 -20 1 1 604.8,608.2 Z"/>
<path class="w" d="M556.3,634.4 A4.5,5.9 -20 1 1 547.7,637.6 A4.5,5.9 -20 1 1 556.3,634.4 Z"/>
<path class="k2" d="M555.8,634.6 A4,5.3 -20 1 1 548.2,637.4 A4,5.3 -20 1 1 555.8,634.6 Z M554.1,635.2 A2.3,3.2 -20 1 1 549.9,636.8 A2.3,3.2 -20 1 1 554.1,635.2 Z"/>
<path class="f" d="M584,613.3 L592,609.6 L596.3,618 L588.3,622.4Z"/>
<path class="f" d="M591,616.6 A3.3,5.1 -25 1 1 585,619.4 A3.3,5.1 -25 1 1 591,616.6 Z"/>
<path class="f" d="M595.7,612.8 A2.9,4.5 -25 1 1 590.4,615.2 A2.9,4.5 -25 1 1 595.7,612.8 Z"/>
<path class="w" d="M560.7,627.3 L576.7,618.9 L580.7,625.3 L564.7,634.4Z"/>
<path class="w" d="M565,629.9 A2.5,4 -25 1 1 560.4,632 A2.5,4 -25 1 1 565,629.9 Z"/>
<path class="k" d="M563.9,630.4 A1.3,2.4 -25 1 1 561.5,631.5 A1.3,2.4 -25 1 1 563.9,630.4 Z M577,618.5 A2.5,4 -25 0 1 580.4,625.8"/>
<path class="w" d="M636.8,630.7 A6.8,6 20 1 1 624,626 A6.8,6 20 1 1 636.8,630.7 Z"/>
<path class="k2" d="M636.4,630.5 A6.4,5.5 20 1 1 624.4,626.2 A6.4,5.5 20 1 1 636.4,630.5 Z"/>
<path class="w" d="M626.7,628.1 L629.5,625.3 L633.8,628.7 L631.3,632.9Z"/>
<path class="k2" d="M624,630.8 L621.9,651.1 M628.3,634.3 L625.6,652.7 M633.8,634 L629.3,652.1"/>
<path class="k" d="M630.9,634.7 L628.3,650.5"/>
<path class="w" d="M635.3,655.3 A6.2,8.5 -15 1 1 623.4,658.5 A6.2,8.5 -15 1 1 635.3,655.3 Z"/>
<path class="w" d="M623.6,658.5 A6.2,8.5 -15 1 1 611.6,661.7 A6.2,8.5 -15 1 1 623.6,658.5 Z"/>
<path class="k2" d="M623.2,658.6 A5.8,8.1 -15 1 1 612,661.6 A5.8,8.1 -15 1 1 623.2,658.6 Z M620.7,659.5 A3.4,4.7 -15 1 1 614.1,661.2 A3.4,4.7 -15 1 1 620.7,659.5 Z"/>
<path class="c" d="M618.8,660.2 A1.5,2.1 -15 1 1 615.9,660.9 A1.5,2.1 -15 1 1 618.8,660.2 Z" fill="#444"/>
<path class="k" d="M615.5,652.5 L627.2,648.9 M622.9,665.5 L634.7,661.2"/>
<path class="w" d="M633.6,652.7 L639.5,651.8 L643,658.2 L636.8,661.4Z"/>
<path class="w" d="M638.4,652.5 L656.5,642.9 L660.3,648.6 L642.1,658.5Z"/>
<path class="k" d="M640,654.8 L641.1,656.9"/>
<path class="f" d="M654.9,643.7 L657.3,642.3 L660.8,647.9 L658.3,649.5Z"/>
<path class="w" d="M611.7,665.5 L606.9,663.3 L592,676.7 L595.2,682.5 L608,676.7 L613.3,672.9Z"/>
<path class="f" d="M590.7,678.3 L601.1,673.5 L603.2,678.3 L593.1,683.1Z"/>
<path class="k" d="M608.2,663.9 A2.3,2.3 0 1 1 603.5,663.9 A2.3,2.3 0 1 1 608.2,663.9 Z"/>
<path class="k2" d="M 611.2,674 C 612.3,679.3 615.5,683.6 621.9,684.7 C 628.3,684.7 634.7,680.4 640,675.3 L 637.3,670.8 L 629.3,674 L 624,669.7"/>
<path class="k" d="M624,676.1 L629.3,679.9 L634.7,676.7 M621.9,674 L624,684.7"/>
<path class="k2" d="M629.3,674 L630.4,669.7 L634.7,660.1"/>
<path class="k" d="M633.6,671.9 L638.9,674"/>
<path class="f" d="M574.9,674.5 L579.2,672.9 L581,676.1 L576.9,677.9Z"/>
<path class="k2" d="M 780.8,508.2 C 780.2,500.4 782.6,492 788.6,491 C 792.8,491.4 795.4,495.6 795.8,501.6 L 792.8,508.8"/>
<path class="k" d="M791.2,498.2 A2.6,3.1 0 1 1 786,498.2 A2.6,3.1 0 1 1 791.2,498.2 Z"/>
<path class="c" d="M789.8,498.2 A1.2,1.4 0 1 1 787.4,498.2 A1.2,1.4 0 1 1 789.8,498.2 Z" fill="#555"/>
<path class="k" d="M 783.8,507.6 C 783.2,500.4 785,495 788.6,494.2 C 791.6,494.6 793,498 793,502.8"/>
<path class="k2" d="M796.4,501.4 L861.2,533.4"/>
<path class="k" d="M794.6,505.8 L858.8,537.4 M792.8,508.8 L858.2,541.2"/>
<path class="k2" d="M788,507.8 L807.2,519.6 L842,535.4 L848.6,547.2"/>
<path class="k" d="M785.6,510.6 L824,531 M790.4,505.8 L845.6,531.8 M816.8,514.8 L840.8,527.4 L843.2,532.8"/>
<path class="k2" d="M824,516 L857.6,532.8"/>
<path class="k" d="M780.8,508.2 L778.4,516 M783.8,507.6 L789.2,514.8 L789.2,522 L779.6,526.8"/>
<path class="w" d="M777.8,516 L782.6,513.6 L788,516 L788,521.4 L782.6,523.8 L777.8,521.4Z"/>
<path class="k2" d="M756.2,528.6 L776,518.6 L778.4,516 M756.2,528.6 L758,547.2 L761.6,562.8 L764.6,572.4 L774.8,566.6 L796.4,555.8"/>
<path class="k" d="M759.8,532.8 L777.2,524.2 L779.6,542.4 L762.2,552Z M758.6,530.4 L761,552 L764,568.8 M777.2,524.2 L796.4,522 L800,525.6 M779.6,542.4 L796.4,536.4 M762.2,552 L764,561.6 L792.8,549.6 M764.6,564 L794,550.2 M765.3,565.9 L794.7,551.9 M766,567.8 L795.4,553.6 M766.8,569.8 L796.2,555.2 M776,518.6 L797.6,521.4 L802.4,528 L800,536.4"/>
<path class="k2" d="M796.4,522 L797.6,540"/>
<path class="k" d="M760.2,531.6 A1,1.2 0 1 1 758.2,531.6 A1,1.2 0 1 1 760.2,531.6 Z M763.8,562.8 A1,1.2 0 1 1 761.8,562.8 A1,1.2 0 1 1 763.8,562.8 Z M796.8,545.4 A1,1.2 0 1 1 794.8,545.4 A1,1.2 0 1 1 796.8,545.4 Z M774.8,566.6 L785.6,572.4 L796.4,576 L802.4,581.4 M776,564 L790.4,571.2"/>
<path class="w" d="M829.4,558.1 A18,22.6 -15 1 1 794.6,567.5 A18,22.6 -15 1 1 829.4,558.1 Z"/>
<path class="k2" d="M829.4,558.1 A18,22.6 -15 1 1 794.6,567.5 A18,22.6 -15 1 1 829.4,558.1 Z"/>
<path class="k" d="M828.8,558.4 A16.2,20.6 -15 1 1 797.6,566.8 A16.2,20.6 -15 1 1 828.8,558.4 Z"/>
<path class="k2" d="M830.6,557.7 A11.5,14.6 -15 1 1 808.3,563.6 A11.5,14.6 -15 1 1 830.6,557.7 Z"/>
<path class="k" d="M828.7,558.3 A8.9,11.8 -15 1 1 811.6,562.9 A8.9,11.8 -15 1 1 828.7,558.3 Z"/>
<path class="k2" d="M827.1,559 A6.5,8.9 -15 1 1 814.6,562.3 A6.5,8.9 -15 1 1 827.1,559 Z"/>
<path class="k" d="M825.8,559.4 A4.8,7 -15 1 1 816.5,561.9 A4.8,7 -15 1 1 825.8,559.4 Z M813.7,535.2 A1.1,1.1 0 1 1 811.5,535.2 A1.1,1.1 0 1 1 813.7,535.2 Z M827.5,569.4 A1.1,1.4 0 1 1 825.3,569.4 A1.1,1.4 0 1 1 827.5,569.4 Z M799.9,576 A1.1,1.4 0 1 1 797.7,576 A1.1,1.4 0 1 1 799.9,576 Z M805.3,580.2 A1.1,1.4 0 1 1 803.1,580.2 A1.1,1.4 0 1 1 805.3,580.2 Z"/>
<path class="k2" d="M800,536.4 L807.2,532.8 L824,536.4 L831.2,542.4 L833.6,552"/>
<path class="k" d="M807.2,532.8 L812,528 L824,530.4 M830,552 L842,547.2 L848.6,547.2 L860,552 L867.2,564 L866,576 M833.6,552 L836,564 L831.2,573.6 M831.2,542.4 L843.2,540 L848.6,547.2 M836,564 L855.2,571.2 L866,576"/>
<path class="c" d="M849.8,552 L854,550.6 L857,552.6 L855.8,560.4 L851.6,561.8 L849.2,559.8Z" fill="#ddd"/>
<path class="k" d="M860.5,565.8 A1.7,1.1 0 1 1 857.1,565.8 A1.7,1.1 0 1 1 860.5,565.8 Z M836.4,552 A1,1 0 1 1 834.4,552 A1,1 0 1 1 836.4,552 Z"/>
<path class="k2" d="M861.2,533.4 L867.2,536.4 L878,531.6 L904.6,550.8 L904.6,557 L890,566.6 L888.8,575 L872,582.2 L866,576"/>
<path class="k" d="M867.2,536.4 L868.4,547.2 L879.2,552 L878,564 L867.2,564 M878,531.6 L879.2,537.6 L900.8,553.2 L904.6,550.8 M879.2,537.6 L870.8,542.4 L868.4,547.2 M900.8,553.2 L900.2,559.2 L890,566.6"/>
<path class="c" d="M878,553.2 L885.2,548.4 L899.6,556.8 L898.4,559.8 L888.8,565.8 L878,562.8Z" fill="#333"/>
<path class="w" d="M880.4,555.6 L884.6,553.2 L887,555 L882.8,557.8Z"/>
<path class="w" d="M888.8,559.2 L893,556.8 L895.4,558.6 L891.2,561.4Z"/>
<path class="k" d="M858.8,532.8 L860,547.2 L863.6,547.2 L864.8,536.4"/>
<path class="w" d="M859.4,536.4 L864.2,535.2 L864.8,541.2 L860,542.4Z"/>
<path class="k" d="M872,582.2 L872,573.6 L879.2,570 L888.8,575 M879.2,570 L878,564"/>
<path class="k2" d="M802.4,581.4 L812,585.6 L826.4,592.2 L842,602.6 L866,609.8 L878,600.6 L877,591 L870.2,583.4 L855.2,579.8 L845.6,582.2"/>
<path class="k" d="M812,585.6 L816.8,582 L831.2,576 M826.4,592.2 L828.8,585.6 L838.4,582 L845.6,582.2 M833.6,594 L834.8,586.8 L840.8,584.4 M840.8,600 L842,588 L848,585.6 L855.2,579.8 M848,603.6 L848.6,592.8 L855.2,588 L860,585.6 M824,579.6 L828.8,585.6 M819.2,588 L824,583.2 M867.2,584.4 A10.6,12 -15 1 1 854.2,594.4"/>
<path class="k2" d="M871.2,594.5 A6.6,8.2 -15 1 1 858.4,597.9 A6.6,8.2 -15 1 1 871.2,594.5 Z"/>
<path class="k" d="M870,594.9 A4.8,6.2 -15 1 1 860.8,597.4 A4.8,6.2 -15 1 1 870,594.9 Z M869.2,595.3 A3.4,4.8 -15 1 1 862.8,597 A3.4,4.8 -15 1 1 869.2,595.3 Z"/>
<path class="f" d="M847.4,521.4 L849.8,519.6 L857.8,523.8 L857,527 L854.6,527.4 L847.2,523.8Z"/>
<path class="c" d="M908.1,513.9 A6.2,9.1 -20 1 1 896.4,518.1 A6.2,9.1 -20 1 1 908.1,513.9 Z" fill="#222"/>
<path class="c" d="M906.7,514.5 A6.2,9.1 -20 1 1 894.9,518.7 A6.2,9.1 -20 1 1 906.7,514.5 Z" fill="#333"/>
<path class="w" d="M903.9,515.4 A3.6,5.5 -20 1 1 897.2,517.8 A3.6,5.5 -20 1 1 903.9,515.4 Z"/>
<path class="k2" d="M902.6,515.9 A2.2,3.6 -20 1 1 898.5,517.3 A2.2,3.6 -20 1 1 902.6,515.9 Z"/>
<path class="c" d="M912.8,577.2 L916.4,575 L920,576 L920,584.4 L916.4,585.6 L912.8,583.2Z" fill="#444"/>
<path class="w" d="M786.2,614.4 L788,611.4 L797.6,607.2 L798.2,601.2 L812,594.6 L814.4,598.2 L814.4,610.8 L800,619.2 L792.8,622.8 L787.4,619.2Z"/>
<path class="c" d="M788,612 L797.4,607.8 L800,610.2 L800,619.2 L792.8,622.6 L787.4,619Z" fill="#333"/>
<path class="k2" d="M798.2,601.2 L800.6,604.2 L814.4,598.2"/>
<path class="k" d="M800.6,604.2 L800,610.2 M799.4,603 L813.2,596.4"/>
<path class="w" d="M803,610.2 L810.8,606.6 L812,610.2 L804.2,614.2Z"/>
<path class="w" d="M795.4,613.2 A2.6,1.7 0 1 1 790.2,613.2 A2.6,1.7 0 1 1 795.4,613.2 Z"/>
<path class="c" d="M752,604.8 L756.8,602.4 L758.2,605.4 L753.4,607.9Z" fill="#666"/>
<path class="c" d="M774.8,599.8 L780.2,597.4 L781.4,600.2 L776,602.6Z" fill="#666"/>
<path class="k" d="M742.2,576 A1.2,2.6 0 1 1 739.8,576 A1.2,2.6 0 1 1 742.2,576 Z"/>
<path class="f" d="M845.1,466 L866.1,456.7 L864,451.8 L842.9,461.2Z"/>
<path class="f" d="M866.5,453.6 A1.6,2.7 -23.9 1 1 863.6,454.9 A1.6,2.7 -23.9 1 1 866.5,453.6 Z"/>
<path class="f" d="M845.5,463 A1.6,2.7 -23.9 1 1 842.5,464.2 A1.6,2.7 -23.9 1 1 845.5,463 Z"/>
<path class="w" d="M853.4,460.9 L856.8,459.4 L855.7,457 L852.3,458.5Z"/>
<path class="f" d="M864.9,494.8 L886.3,484.1 L883.9,479.3 L862.5,490Z"/>
<path class="f" d="M886.5,481 A1.6,2.7 -26.6 1 1 883.6,482.4 A1.6,2.7 -26.6 1 1 886.5,481 Z"/>
<path class="f" d="M865.2,491.7 A1.6,2.7 -26.6 1 1 862.3,493.1 A1.6,2.7 -26.6 1 1 865.2,491.7 Z"/>
<path class="w" d="M873.3,489.1 L876.7,487.4 L875.5,485 L872.1,486.7Z"/>
<path class="f" d="M901.6,482.7 L906,480.4 L908,482.3 L906.7,484.4 L902.4,484.9Z"/>
<path class="w" d="M918.4,475.9 A2.3,3.3 -20 1 1 914.1,477.4 A2.3,3.3 -20 1 1 918.4,475.9 Z"/>
<path class="w" d="M912,474.7 L916.3,473.3 L916.3,480 L912,481.3Z"/>
<path class="w" d="M914.1,477.2 A2.3,3.3 -20 1 1 909.9,478.8 A2.3,3.3 -20 1 1 914.1,477.2 Z"/>
<path class="k2" d="M929.3,469.9 A2.1,3.6 -20 1 1 925.3,471.4 A2.1,3.6 -20 1 1 929.3,469.9 Z"/>
<path class="w" d="M934.9,418.7 L961.3,428.7 L961.6,450 L958.7,449.3 L937.3,440.7 L934.7,435.3Z"/>
<path class="k" d="M944.3,428.7 A1.9,1.9 0 1 1 940.5,428.7 A1.9,1.9 0 1 1 944.3,428.7 Z M959.3,437.3 A2,2 0 1 1 955.3,437.3 A2,2 0 1 1 959.3,437.3 Z"/>
<path class="f" d="M948.4,431.6 A0.7,0.7 0 1 1 947.1,431.6 A0.7,0.7 0 1 1 948.4,431.6 Z"/>
<path class="k2" d="M940.7,435.3 L956,442.7"/>
<path class="k" d="M940.7,433.7 L956.7,441.3 L956.3,444 L940,436.7Z"/>
<path class="k2" d="M938.7,421.3 L946.7,424.7"/>
<path class="k" d="M938,422.7 L946,426"/>
<path class="w" d="M960.3,394.7 L962.7,391.3 L975.3,398.7 L975.3,402.7 L987.3,420.7 L990,421.3 L990,442 L986.7,441.3 L964,432.7 L962.7,410 L960.3,406Z"/>
<path class="k" d="M962.7,398.7 L974.7,405.3 L986.7,421.3 M962.7,410 L964.7,408 L986.7,421.3 L990,421.3 M971.5,421.3 A1.9,1.9 0 1 1 967.7,421.3 A1.9,1.9 0 1 1 971.5,421.3 Z M986.9,429.3 A1.9,1.9 0 1 1 983.2,429.3 A1.9,1.9 0 1 1 986.9,429.3 Z"/>
<path class="f" d="M976,424 A0.7,0.7 0 1 1 974.7,424 A0.7,0.7 0 1 1 976,424 Z"/>
<path class="k" d="M967.3,426.7 L983.3,434 L982.9,436.7 L966.7,429.3Z"/>
<path class="k2" d="M967.7,428.1 L982.7,435.3"/>
<path class="c" d="M1002.7,411.3 A2.4,2.7 0 1 1 997.9,411.3 A2.4,2.7 0 1 1 1002.7,411.3 Z" fill="#444"/>
<path class="w" d="M995.3,412.4 L999.3,410 L1000.7,413.3 L996.7,415.3Z"/>
<path class="c" d="M674.4,566.7 L678,565.3 L685.3,570 L693.3,574.7 L692.7,577.7 L688.7,577.3 L680,574.7 L674,570Z" fill="#333"/>
<path class="w" d="M681.6,569.1 A1.9,2.9 -30 1 1 678.4,570.9 A1.9,2.9 -30 1 1 681.6,569.1 Z"/>
<path class="w" d="M 697.1,578.3 L 701.6,576.9 L 704,579.1 C 712,583.3 720,584 727.3,579.6 L 730,583.3 C 721.3,589.3 710.7,588.7 701.6,583.6 L 698.9,584.4 L 696.3,582.3 Z"/>
<path class="k" d="M701.6,576.9 L704,582.7 M698.9,578 L701.1,584"/>
<path class="c" d="M729.3,576 L734.7,572.4 L740,572.9 L742.7,576.7 L741.3,582 L736,584.9 L731.3,584 L729.1,580.7Z" fill="#444"/>
<path class="w" d="M735.1,578.9 A2.1,3.2 -20 1 1 731.1,580.3 A2.1,3.2 -20 1 1 735.1,578.9 Z"/>
<path class="k" d="M734.1,579.2 A1.1,1.7 -20 1 1 732.1,580 A1.1,1.7 -20 1 1 734.1,579.2 Z"/>
<path class="c" d="M726.9,551.3 L732,549.3 L733.3,552 L728.3,554.3Z" fill="#aaa"/>
<path class="w" d="M738.6,603.8 A8,10.7 -20 1 1 723.5,609.3 A8,10.7 -20 1 1 738.6,603.8 Z"/>
<path class="w" d="M722.7,598.6 L728.7,596.2 L733.5,616.9 L727.5,619.3Z"/>
<path class="w2" d="M732.6,606.2 A8,10.7 -20 1 1 717.5,611.7 A8,10.7 -20 1 1 732.6,606.2 Z"/>
<path class="k2" d="M731.7,606.5 A7,9.4 -20 1 1 718.5,611.3 A7,9.4 -20 1 1 731.7,606.5 Z M729.4,607.3 A4.6,6.4 -20 1 1 720.7,610.5 A4.6,6.4 -20 1 1 729.4,607.3 Z"/>
<path class="k" d="M727.8,607.9 A2.9,4.1 -20 1 1 722.4,609.9 A2.9,4.1 -20 1 1 727.8,607.9 Z"/>
<path class="w" d="M1025.7,378.9 L1028.7,378.4 L1040.9,390.7 L1038.7,393.3 L1037.3,392.7 L1024.4,383.3Z"/>
<path class="w" d="M1028.4,380.1 A2.3,3.6 -40 1 1 1024.9,383.1 A2.3,3.6 -40 1 1 1028.4,380.1 Z"/>
<path class="w" d="M1037.3,392.3 L1045.3,392.3 L1045.3,402 L1037.3,402Z"/>
<path class="w" d="M1045.3,392 A4,1.6 0 1 1 1037.3,392 A4,1.6 0 1 1 1045.3,392 Z"/>
<path class="k" d="M1037.3,398.7 L1045.3,398.7 M1037.3,400 L1045.3,400"/>
<path class="k2" d="M 1038.7,421.3 C 1041.3,420 1043.3,422 1044,425.3 L 1048.7,427.3 C 1052.7,432 1054,437.3 1055.3,439.3 L 1067.3,442 C 1072,443.3 1074,448 1072,452 L 1070,454.9 L 1069.3,461.3 L 1064,461.3 L 1063.6,455.3 L 1055.3,453.6 C 1050,450.7 1046,446.7 1044,445.3 L 1036.7,439.3 L 1032.9,442 L 1032.4,439.3 L 1037.3,436 C 1036.7,432 1037.3,425.3 1038.7,421.3 Z"/>
<path class="f" d="M 1040,425.3 C 1042,425.3 1043.3,428 1044.9,430 C 1048.7,433.3 1050,438.7 1052.4,441.6 L 1063.3,445.3 L 1062.7,452 L 1056,450.7 C 1051.3,448 1048,444.7 1045.3,442.7 L 1039.6,438 C 1038.3,433.3 1038.7,428 1040,425.3 Z"/>
<path class="w" d="M1044.9,435.1 A1.9,2.9 -30 1 1 1041.7,436.9 A1.9,2.9 -30 1 1 1044.9,435.1 Z"/>
<path class="w" d="M1051.2,442 A1.3,2.1 -30 1 1 1048.8,443.3 A1.3,2.1 -30 1 1 1051.2,442 Z"/>
<path class="w" d="M1069.1,448 A2.4,2.9 0 1 1 1064.3,448 A2.4,2.9 0 1 1 1069.1,448 Z"/>
<path class="c" d="M1067.9,448 A1.2,1.6 0 1 1 1065.5,448 A1.2,1.6 0 1 1 1067.9,448 Z" fill="#444"/>
<path class="w" d="M1042,428 A1.1,1.6 0 1 1 1039.9,428 A1.1,1.6 0 1 1 1042,428 Z"/>
<path class="w" d="M1060.3,447.3 A1.6,1.9 0 1 1 1057.1,447.3 A1.6,1.9 0 1 1 1060.3,447.3 Z"/>
<path class="k" d="M1064.9,457.3 L1068.4,457.3 M1044,425.3 L1048.7,433.3 L1055.3,439.3"/>
<path class="k2" d="M1040,421.3 L1041.3,426.7"/>
<path class="k" d="M1054,440 L1056.7,453.3"/>
<path class="k2" d="M1068.7,444 L1070.7,453.3"/>
<path class="w" d="M1073.7,411 L1067,414.7 L1068.2,416.8 L1074.9,413Z"/>
<path class="w" d="M1072.2,413.2 A1.6,2.3 150.8 1 1 1075,411.6 A1.6,2.3 150.8 1 1 1072.2,413.2 Z"/>
<path class="w" d="M1072.9,412.8 A1.6,2.3 150.8 1 1 1075.7,411.2 A1.6,2.3 150.8 1 1 1072.9,412.8 Z"/>
<path class="w" d="M1090.1,430.9 L1083,434.7 L1084.2,436.8 L1091.2,433.1Z"/>
<path class="w" d="M1088.6,433.1 A1.6,2.3 152.2 1 1 1091.4,431.6 A1.6,2.3 152.2 1 1 1088.6,433.1 Z"/>
<path class="w" d="M1089.3,432.7 A1.6,2.3 152.2 1 1 1092.1,431.3 A1.6,2.3 152.2 1 1 1089.3,432.7 Z"/>
<path class="w" d="M1121.7,364.9 L1114.8,368.3 L1115.9,370.4 L1122.8,367.1Z"/>
<path class="w" d="M1120.1,367 A1.6,2.3 154.3 1 1 1123,365.7 A1.6,2.3 154.3 1 1 1120.1,367 Z"/>
<path class="w" d="M1120.8,366.7 A1.6,2.3 154.3 1 1 1123.7,365.3 A1.6,2.3 154.3 1 1 1120.8,366.7 Z"/>
<path class="w" d="M1140.8,388.5 L1133.7,392.3 L1134.8,394.4 L1141.9,390.7Z"/>
<path class="w" d="M1139.2,390.7 A1.6,2.3 152.2 1 1 1142,389.2 A1.6,2.3 152.2 1 1 1139.2,390.7 Z"/>
<path class="w" d="M1139.9,390.3 A1.6,2.3 152.2 1 1 1142.7,388.9 A1.6,2.3 152.2 1 1 1139.9,390.3 Z"/>
<path class="w" d="M1156.8,400.5 L1149.5,404.3 L1150.5,406.4 L1157.9,402.7Z"/>
<path class="w" d="M1155.2,402.7 A1.6,2.3 153 1 1 1158,401.2 A1.6,2.3 153 1 1 1155.2,402.7 Z"/>
<path class="w" d="M1155.9,402.3 A1.6,2.3 153 1 1 1158.7,400.9 A1.6,2.3 153 1 1 1155.9,402.3 Z"/>
<path class="w" d="M 1095.3,380 C 1096,376 1098.7,373.3 1102,374.9 L 1137.3,402 C 1140,404 1140.7,406.7 1140,409.3 L 1135.3,428.7 C 1134,432.7 1130.7,433.3 1128,432 L 1098,416 C 1095.3,414 1094.3,412 1094.7,409.3 Z"/>
<path class="k2" d="M 1097.3,381.3 C 1098,378 1099.6,376.7 1102,378 L 1135.3,403.7 C 1137.3,405.3 1137.7,407.3 1137.3,409.3 L 1133.3,426.7 C 1132.4,429.6 1130,430 1128,429.1 L 1099.6,414 C 1097.3,412.7 1096.7,411.3 1096.9,409.3 Z"/>
<path class="k" d="M1103.3,386 L1130.7,407.3 L1127.3,424 L1102,410.7Z M1132.8,403.8 A11.3,12.7 -20 0 1 1109.8,402.9"/>
<path class="k2" d="M1124.8,400.3 A5.1,6.7 -20 1 1 1115.2,403.7 A5.1,6.7 -20 1 1 1124.8,400.3 Z"/>
<path class="k" d="M1115.2,409.1 A8,10 -20 0 1 1124.8,394.9"/>
<path class="k2" d="M1096.7,384 L1102,386.7 L1102,398.7 L1097.3,401.3 M1108.7,389.3 L1108.7,397.3 L1112.7,399.3"/>
<path class="c" d="M1101.3,380 A1.3,1.6 0 1 1 1098.7,380 A1.3,1.6 0 1 1 1101.3,380 Z" fill="#555"/>
<path class="k" d="M1134,414.7 A1.3,1.6 0 1 1 1131.3,414.7 A1.3,1.6 0 1 1 1134,414.7 Z M1102,410.7 A1.3,1.6 0 1 1 1099.3,410.7 A1.3,1.6 0 1 1 1102,410.7 Z"/>
<path class="k2" d="M1123.3,398.7 L1130,408"/>
<path class="w" d="M1169.4,377.1 A10.4,13.3 -20 1 1 1149.8,384.2 A10.4,13.3 -20 1 1 1169.4,377.1 Z"/>
<path class="f" d="M1163.7,379 A7.5,8.8 -20 1 1 1149.7,384.2 A7.5,8.8 -20 1 1 1163.7,379 Z"/>
<path class="w" d="M1155.7,382.9 A3.2,4 -20 1 1 1149.7,385.1 A3.2,4 -20 1 1 1155.7,382.9 Z"/>
<path class="k" d="M1154.4,383.4 A1.9,2.5 -20 1 1 1150.9,384.6 A1.9,2.5 -20 1 1 1154.4,383.4 Z"/>
<path class="k2" d="M1159.7,381.1 A5.3,6.7 -20 1 1 1149.7,384.8 A5.3,6.7 -20 1 1 1159.7,381.1 Z"/>
<path class="w" d="M1061.3,481.3 L1071.6,481.3 L1071.6,487.7 L1066.3,490.4 L1061.3,487.7Z"/>
<path class="w" d="M1071.6,481.3 A5.2,2.7 0 1 1 1061.2,481.3 A5.2,2.7 0 1 1 1071.6,481.3 Z"/>
<path class="k" d="M1069.1,481.3 A2.7,1.3 0 1 1 1063.7,481.3 A2.7,1.3 0 1 1 1069.1,481.3 Z M 1061.3,487.3 C 1062.7,490.9 1070,490.9 1071.6,487.3"/>
<path class="c" d="M1213.4,353.6 A8,10.9 -20 1 1 1198.4,359.1 A8,10.9 -20 1 1 1213.4,353.6 Z" fill="#222"/>
<path class="w" d="M1211.2,355.2 A8,10.9 -20 1 1 1196.2,360.7 A8,10.9 -20 1 1 1211.2,355.2 Z"/>
<path class="k2" d="M1210.6,355.4 A7.4,10.2 -20 1 1 1196.8,360.4 A7.4,10.2 -20 1 1 1210.6,355.4 Z M1207.9,356.4 A4.8,7 -20 1 1 1198.8,359.7 A4.8,7 -20 1 1 1207.9,356.4 Z"/>
<path class="k" d="M1206.4,357 A3.2,4.8 -20 1 1 1200.4,359.2 A3.2,4.8 -20 1 1 1206.4,357 Z"/>
<path class="f" d="M1251.7,335.2 A16.3,22.7 -20 1 1 1221,346.4 A16.3,22.7 -20 1 1 1251.7,335.2 Z"/>
<path class="w" d="M1246.9,337.6 A16.3,22.7 -20 1 1 1216.2,348.8 A16.3,22.7 -20 1 1 1246.9,337.6 Z"/>
<path class="k2" d="M1246.3,337.8 A15.7,22.1 -20 1 1 1216.8,348.6 A15.7,22.1 -20 1 1 1246.3,337.8 Z"/>
<path class="k" d="M1243.5,338.9 A13.4,19.2 -20 1 1 1218.3,348.1 A13.4,19.2 -20 1 1 1243.5,338.9 Z"/>
<path class="k2" d="M1239.9,340.4 A9.9,14.4 -20 1 1 1221.2,347.2 A9.9,14.4 -20 1 1 1239.9,340.4 Z"/>
<path class="w" d="M1238.7,341.3 A5.4,7.4 -20 1 1 1228.5,345.1 A5.4,7.4 -20 1 1 1238.7,341.3 Z"/>
<path class="w" d="M1226.4,339.2 L1233.6,336 L1235.2,349.9 L1228,353.6Z"/>
<path class="w" d="M1232.8,344.5 A5.4,7.4 -20 1 1 1222.6,348.3 A5.4,7.4 -20 1 1 1232.8,344.5 Z"/>
<path class="k2" d="M1231,345.2 A3.5,5.1 -20 1 1 1224.4,347.6 A3.5,5.1 -20 1 1 1231,345.2 Z"/>
<path class="f" d="M1251.2,326.4 L1260.8,322.4 L1265.6,331.2 L1256,335.5Z"/>
<path class="f" d="M1256.8,329.8 A3.2,4.8 -25 1 1 1251,332.6 A3.2,4.8 -25 1 1 1256.8,329.8 Z"/>
<path class="f" d="M1265.8,325.5 A3.2,4.8 -25 1 1 1260,328.2 A3.2,4.8 -25 1 1 1265.8,325.5 Z"/>
<path class="w" d="M1285.3,315.8 A9.9,13.8 -20 1 1 1266.7,322.6 A9.9,13.8 -20 1 1 1285.3,315.8 Z"/>
<path class="k" d="M1278.4,318.8 A2.2,2.9 -20 1 1 1274.2,320.3 A2.2,2.9 -20 1 1 1278.4,318.8 Z"/>
<path class="w" d="M1299.2,290.4 L1302.4,288 L1308,293.6 L1308.8,303.2 L1316,311.2 L1317.6,317.6 L1313.6,321.6 L1308,316 L1301.6,311.2 L1295.2,309.6 L1290.4,309.6 L1289.1,304 L1298.4,300.8Z"/>
<path class="k" d="M1304.6,305.1 A1.8,1.9 0 1 1 1301.1,305.1 A1.8,1.9 0 1 1 1304.6,305.1 Z"/>
<path class="c" d="M1309.4,303.2 A1.1,1.3 0 1 1 1307.2,303.2 A1.1,1.3 0 1 1 1309.4,303.2 Z" fill="#555"/>
<path class="c" d="M1314.2,311.5 A1.4,1.6 0 1 1 1311.4,311.5 A1.4,1.6 0 1 1 1314.2,311.5 Z" fill="#555"/>
<path class="k2" d="M1306.4,295.2 L1307.2,301.6 M1311.2,312.8 L1316,319.2 M1341.6,286.8 A12.8,18.4 -20 1 1 1317.6,295.6 A12.8,18.4 -20 1 1 1341.6,286.8 Z M1342.5,286.5 A13.8,19.4 -20 1 1 1316.7,295.9 A13.8,19.4 -20 1 1 1342.5,286.5 Z M1342.1,286.7 A13.3,18.9 -20 1 1 1317.1,295.7 A13.3,18.9 -20 1 1 1342.1,286.7 Z"/>
<path class="w" d="M1373.9,271.8 A16,22.1 -20 1 1 1343.8,282.8 A16,22.1 -20 1 1 1373.9,271.8 Z"/>
<path class="w" d="M1371,273 A16.3,22.4 -20 1 1 1340.3,284.1 A16.3,22.4 -20 1 1 1371,273 Z"/>
<path class="k2" d="M1370.1,273.3 A15.4,21.4 -20 1 1 1341.2,283.8 A15.4,21.4 -20 1 1 1370.1,273.3 Z M1365.5,274.9 A11.5,16.3 -20 1 1 1343.9,282.8 A11.5,16.3 -20 1 1 1365.5,274.9 Z"/>
<path class="c" d="M1358.6,277.3 A4.5,6.1 -20 1 1 1350.2,280.4 A4.5,6.1 -20 1 1 1358.6,277.3 Z" fill="#555"/>
<path class="k2" d="M1354.4,278.9 L1362.4,278.9 M1354.4,278.9 L1358.4,289.3 M1354.4,278.9 L1350.4,289.3 M1354.4,278.9 L1346.4,278.9 M1354.4,278.9 L1350.4,268.5 M1354.4,278.9 L1358.4,268.5"/>
<path class="w" d="M1351.7,268.8 A2.2,3.2 -20 1 1 1347.5,270.4 A2.2,3.2 -20 1 1 1351.7,268.8 Z"/>
<path class="w" d="M1361.3,286.4 A2.2,3.2 -20 1 1 1357.1,288 A2.2,3.2 -20 1 1 1361.3,286.4 Z"/>
<path class="w" d="M1361.8,270.5 A1.9,2.9 -20 1 1 1358.2,271.9 A1.9,2.9 -20 1 1 1361.8,270.5 Z"/>
<path class="w" d="M1350.6,284.9 A1.9,2.9 -20 1 1 1347,286.3 A1.9,2.9 -20 1 1 1350.6,284.9 Z"/>
<path class="k2" d="M1368.8,271.2 L1374.4,275.2 M1354.4,296.8 L1364,295.2"/>
<path class="c" d="M1052.8,540.5 A5.3,6.2 -20 1 1 1042.8,544.1 A5.3,6.2 -20 1 1 1052.8,540.5 Z" fill="#333"/>
<path class="c" d="M1047.6,543.2 A5.6,6.4 -20 1 1 1037.2,547 A5.6,6.4 -20 1 1 1047.6,543.2 Z" fill="#222"/>
<path class="w" d="M1041,546.6 A5.6,6.4 -20 1 1 1030.6,550.4 A5.6,6.4 -20 1 1 1041,546.6 Z"/>
<path class="c" d="M1039.3,547.2 A3.7,4.5 -20 1 1 1032.3,549.8 A3.7,4.5 -20 1 1 1039.3,547.2 Z" fill="#333"/>
<path class="c" d="M1037.9,547.7 A2.2,2.7 -20 1 1 1033.7,549.3 A2.2,2.7 -20 1 1 1037.9,547.7 Z" fill="#aaa"/>
<path class="w" d="M1056.5,534.5 L1063,531.5 L1065.5,536 L1059,539.2Z"/>
<path class="c" d="M1059.1,536.4 A1.4,2.5 -25 1 1 1056.5,537.6 A1.4,2.5 -25 1 1 1059.1,536.4 Z" fill="#555"/>
<path class="f" d="M1069.2,528 L1077,524.5 L1079,527.5 L1071.5,531.5Z"/>
<path class="f" d="M1079,525.5 A1.6,2.4 -25 1 1 1076,526.9 A1.6,2.4 -25 1 1 1079,525.5 Z"/>
<path class="c" d="M1094.1,519 A4.4,5.8 -20 1 1 1085.9,522 A4.4,5.8 -20 1 1 1094.1,519 Z" fill="#333"/>
<path class="c" d="M1092.9,519.7 A4.4,5.8 -20 1 1 1084.7,522.7 A4.4,5.8 -20 1 1 1092.9,519.7 Z" fill="#222"/>
<path class="w" d="M1090.9,520.5 A2.4,3.4 -20 1 1 1086.3,522.1 A2.4,3.4 -20 1 1 1090.9,520.5 Z"/>
<path class="w" d="M834.2,763.3 L838.3,755.8 L855.8,748.3 L861.7,755.8 L858.3,762.5 L849.2,767.5 L839.2,769.2Z"/>
<path class="k" d="M853.8,756 A7.5,4.5 -25 1 1 840.2,762.3 A7.5,4.5 -25 1 1 853.8,756 Z M839.3,764.7 A1,1 0 1 1 837.3,764.7 A1,1 0 1 1 839.3,764.7 Z M859.7,755.3 A1,1 0 1 1 857.7,755.3 A1,1 0 1 1 859.7,755.3 Z"/>
<path class="c" d="M860,768.3 L863.7,762.5 L877.5,757 L884.2,760 L888.7,766.7 L887.5,775 L881.7,779.2 L875,777.5 L866.7,778.3 L860.8,775Z" fill="#333"/>
<path class="w" d="M886.8,768.7 A5,7 -15 1 1 877.2,771.3 A5,7 -15 1 1 886.8,768.7 Z"/>
<path class="k2" d="M885.5,769.1 A3.7,5.3 -15 1 1 878.5,770.9 A3.7,5.3 -15 1 1 885.5,769.1 Z"/>
<path class="w" d="M864.3,772.5 A1.3,2 0 1 1 861.7,772.5 A1.3,2 0 1 1 864.3,772.5 Z"/>
<path class="w" d="M881.3,759.7 A1.3,1.3 0 1 1 878.7,759.7 A1.3,1.3 0 1 1 881.3,759.7 Z"/>
<path class="k" d="M868.3,765 L875,775"/>
<path class="c" d="M867.5,765.8 L875,763 L877.5,770 L870,773.3Z" fill="#999"/>
<path class="f" d="M937.7,774.7 A2.7,2.8 0 1 1 932.3,774.7 A2.7,2.8 0 1 1 937.7,774.7 Z"/>
<path class="c" d="M929.2,772.5 L934.2,771.7 L935,776.7 L930,777.5Z" fill="#555"/>
<path class="f" d="M891.3,798.3 A2.7,2.8 0 1 1 886,798.3 A2.7,2.8 0 1 1 891.3,798.3 Z"/>
<path class="c" d="M883,795.8 L887.5,795.3 L888.3,800.3 L884.2,800.8Z" fill="#555"/>
<path class="w" d="M945.8,757.5 L949.5,757.5 L949.5,765 L947.7,766.7 L945.8,765Z"/>
<path class="w" d="M944.3,754.2 L951,754.2 L951,757.5 L944.3,757.5Z"/>
<path class="w" d="M951,754.2 A3.3,1.5 0 1 1 944.3,754.2 A3.3,1.5 0 1 1 951,754.2 Z"/>
<path class="w" d="M909.3,793.3 L913,793.3 L913,800.8 L911.2,802.5 L909.3,800.8Z"/>
<path class="w" d="M907.8,790 L914.5,790 L914.5,793.3 L907.8,793.3Z"/>
<path class="w" d="M914.5,790 A3.3,1.5 0 1 1 907.8,790 A3.3,1.5 0 1 1 914.5,790 Z"/>
<path class="w" d="M924.2,785.8 L962.5,770 L966.7,775 L962,795 L957.5,805.8 L931.7,822.5 L926.7,818.3 L920,813.7 L920,810 L922.8,810Z"/>
<path class="k2" d="M924.7,786.7 L963,770.8 M926.7,787.5 L961.7,773 M962.5,770 L963.7,772 L959.2,793.3"/>
<path class="k" d="M929.2,790 L959.2,777.5 L955.8,803.3 L933.3,817.5Z"/>
<path class="k2" d="M924.2,785.8 L922.8,810"/>
<path class="k" d="M926.7,788.3 L926.7,818.3 M929.2,790 L930.8,816.7"/>
<path class="k2" d="M948.4,792.7 A7,8.7 -15 1 1 934.9,796.3 A7,8.7 -15 1 1 948.4,792.7 Z"/>
<path class="k" d="M946.5,793.2 A5,6.7 -15 1 1 936.8,795.8 A5,6.7 -15 1 1 946.5,793.2 Z"/>
<path class="c" d="M950.3,782.5 A1.2,1.3 0 1 1 948,782.5 A1.2,1.3 0 1 1 950.3,782.5 Z" fill="#444"/>
<path class="c" d="M935.3,798.3 A1.2,1.3 0 1 1 933,798.3 A1.2,1.3 0 1 1 935.3,798.3 Z" fill="#444"/>
<path class="c" d="M949.5,800 A1.2,1.3 0 1 1 947.2,800 A1.2,1.3 0 1 1 949.5,800 Z" fill="#444"/>
<path class="k2" d="M933.3,810 L936.7,815 L939.2,806.7 L943.3,811.7 L945.8,804.2 L950,809.2 L952.5,801.7 L955.3,805 M951.7,783.3 L956.7,786.7 L953.3,793.3"/>
<path class="k" d="M933.3,817.5 L935,810 L955.8,798.3"/>
<path class="w" d="M 960.8,809.7 L 970.8,797.7 C 973.3,795.3 976.7,795.3 979.2,797 L 984.2,801.7 C 985.3,804.2 985,806.7 983.7,808.3 L 975,817 C 972.5,819.2 969.2,819.2 966.7,817.5 L 961.7,813.7 C 960.3,812.5 960,810.8 960.8,809.7 Z"/>
<path class="k" d="M 962.8,810 L 971.7,799.7 C 973.3,798 975.8,798 977.5,799.2 L 981.7,802.8 C 982.5,804.5 982.3,805.8 981.3,807 L 974.2,814.7 C 972.5,816.3 970,816.3 968.3,815.3 L 963.7,812.5 C 962.7,811.7 962.3,810.8 962.8,810 Z"/>
<path class="k2" d="M976.9,810.1 A5.3,7.7 35 1 1 968.1,803.9 A5.3,7.7 35 1 1 976.9,810.1 Z"/>
<path class="k" d="M965.8,810.8 A0.8,0.8 0 1 1 964.2,810.8 A0.8,0.8 0 1 1 965.8,810.8 Z M982.2,803.3 A0.8,0.8 0 1 1 980.5,803.3 A0.8,0.8 0 1 1 982.2,803.3 Z"/>
<path class="k2" d="M1004,816.8 A4.5,5.8 -15 1 1 995.3,819.2 A4.5,5.8 -15 1 1 1004,816.8 Z M1004.7,816.7 A5.2,6.5 -15 1 1 994.7,819.3 A5.2,6.5 -15 1 1 1004.7,816.7 Z"/>
<path class="w" d="M1007.5,810.8 L1022.5,805 L1045,795.8 L1047.5,800 L1048.3,820 L1035,836.7 L1017.5,845.8 L1010,836.7Z"/>
<path class="k" d="M1029.5,826.1 A5.5,7 -15 1 1 1018.9,828.9 A5.5,7 -15 1 1 1029.5,826.1 Z M1038.3,816.7 A1.7,1.8 0 1 1 1035,816.7 A1.7,1.8 0 1 1 1038.3,816.7 Z M1017.7,830.8 A1,1 0 1 1 1015.7,830.8 A1,1 0 1 1 1017.7,830.8 Z M1034,824.7 A1,1 0 1 1 1032,824.7 A1,1 0 1 1 1034,824.7 Z"/>
<path class="w" d="M997.5,881.7 L1024.2,868 L1033.3,871.7 L1035,875.8 L1041.7,875 L1046.3,877.5 L1022.5,891.7 L1015,888.3 L1014.2,885 L1005,886.7Z"/>
<path class="w" d="M1049,840.5 L1053.5,836 L1061.6,833.3 L1062.5,827 L1068.8,825.2 L1070.6,831.5 L1078.7,829.7 L1085,835.1 L1087.2,843.2 L1088.6,851.3 L1082.3,855.8 L1072.4,859.4 L1067,857.6 L1059.8,861.2 L1052.6,860.3 L1050.8,854 L1053.5,850.4 L1048.6,846.8Z"/>
<path class="k2" d="M1049,840.5 L1053.5,836 L1061.6,833.3 L1062.5,827 L1068.8,825.2 L1070.6,831.5 L1078.7,829.7 L1085,835.1 L1087.2,843.2 L1088.6,851.3 L1082.3,855.8 L1072.4,859.4 L1067,857.6 L1059.8,861.2 L1052.6,860.3 L1050.8,854 L1053.5,850.4 L1048.6,846.8Z"/>
<path class="c" d="M1049.9,841 L1054,836.9 L1061.2,834.6 L1063,841.4 L1062,849.5 L1057.6,852.2 L1053.5,850.8 L1049.4,846.4Z" fill="#2a2a2a"/>
<path class="c" d="M1053,854 L1059.8,852.2 L1067,854 L1067,857.2 L1059.8,860.5 L1053,859.4Z" fill="#333"/>
<path class="c" d="M1063,827.4 L1068.4,826.1 L1069.9,831.7 L1063.8,833.1Z" fill="#444"/>
<path class="k2" d="M1081.8,846.4 A5,6.5 -15 1 1 1072,849 A5,6.5 -15 1 1 1081.8,846.4 Z M1080,846.9 A3.2,4.7 -15 1 1 1073.8,848.5 A3.2,4.7 -15 1 1 1080,846.9 Z"/>
<path class="k" d="M1063.4,835.1 L1077.8,832 L1083.2,836 L1068.8,840Z"/>
<path class="k2" d="M1068.8,840 L1069.7,854"/>
<path class="k" d="M1063,841.4 L1068.8,840 M1083.2,836 L1085,843.2 M1087,845 A1.1,1.3 0 1 1 1084.8,845 A1.1,1.3 0 1 1 1087,845 Z M1069.9,852.2 A1.1,1.3 0 1 1 1067.7,852.2 A1.1,1.3 0 1 1 1069.9,852.2 Z"/>
<path class="w" d="M1057.6,844.1 A1.4,1.8 0 1 1 1054.8,844.1 A1.4,1.8 0 1 1 1057.6,844.1 Z"/>
<path class="w" d="M1059.3,856.2 A1.3,1.1 0 1 1 1056.7,856.2 A1.3,1.1 0 1 1 1059.3,856.2 Z"/>
<path class="k" d="M1072.4,842.3 L1072.4,854 M1081.8,840.5 L1082.8,853.1"/>
<path class="w" d="M1093.6,854 L1103,840.5 L1119.2,833.8 L1132.7,847.7 L1130,859.4 L1120.1,872 L1099.4,863Z"/>
<path class="k2" d="M1094,854 L1103.4,841 L1119.2,834.6"/>
<path class="k" d="M1119.2,833.8 L1116.5,842.3 L1124.6,845.9 L1132.7,847.7"/>
<path class="k2" d="M1117.8,834.2 L1115.2,841.8 M1123.5,851.7 A9.4,10.4 -20 1 1 1105.9,858.1 A9.4,10.4 -20 1 1 1123.5,851.7 Z M1122.4,853.8 A6.8,8.1 -20 1 1 1109.5,858.5 A6.8,8.1 -20 1 1 1122.4,853.8 Z"/>
<path class="k" d="M1121.4,855.6 A4.7,5.9 -20 1 1 1112.6,858.8 A4.7,5.9 -20 1 1 1121.4,855.6 Z"/>
<path class="w" d="M1117.4,869.3 L1126.4,865.7 L1130.4,869.3 L1121.4,874.2Z"/>
<path class="c" d="M1098.5,863 L1104.8,862.1 L1109.3,868.4 L1102.1,869.3Z" fill="#333"/>
<path class="k2" d="M1103,847.7 L1105.7,859.4 L1112,865.7"/>
<path class="w" d="M1112.8,891 L1138,901.6 L1139.3,898.6 L1114.1,888Z"/>
<path class="c" d="M1137.6,902.6 L1140.8,903.9 L1142.9,899 L1139.7,897.6Z" fill="#333"/>
<path class="f" d="M1143.4,902.1 A1.6,2.7 22.9 1 1 1140.4,900.8 A1.6,2.7 22.9 1 1 1143.4,902.1 Z"/>
<path class="w" d="M1161.4,873 L1186.1,883.4 L1187.3,880.4 L1162.7,870Z"/>
<path class="c" d="M1185.6,884.4 L1188.9,885.8 L1191,880.8 L1187.8,879.4Z" fill="#333"/>
<path class="f" d="M1191.4,883.9 A1.6,2.7 22.9 1 1 1188.4,882.6 A1.6,2.7 22.9 1 1 1191.4,883.9 Z"/>
<path class="w" d="M1127.3,881.9 L1139.9,875.6 L1144.4,880.1 L1144,883.7 L1131.8,887.7 L1127.3,885Z"/>
<path class="k" d="M1127.3,881.9 L1132.2,884.6 L1144.4,880.1 M1132.2,884.6 L1131.8,887.7"/>
<path class="w" d="M1225.8,856.2 L1231.2,853.6 L1235.8,856.2 L1235.8,861.2 L1230.8,863.9 L1225.8,861.2Z"/>
<path class="w" d="M1235.3,857.7 A2.9,4 -20 1 1 1229.9,859.7 A2.9,4 -20 1 1 1235.3,857.7 Z"/>
<path class="c" d="M1233.8,858.2 A1.3,1.8 -20 1 1 1231.4,859.1 A1.3,1.8 -20 1 1 1233.8,858.2 Z" fill="#555"/>
<path class="k2" d="M1242,878.3 L1248.8,879.2 L1246.1,865.7 L1257.8,868.8"/>
<path class="w" d="M1258.2,867 L1281.2,877.8 L1280.3,880.6 L1256.9,869.8Z"/>
<path class="w" d="M1289.6,879.8 A3.6,5.4 -20 1 1 1282.9,882.2 A3.6,5.4 -20 1 1 1289.6,879.8 Z"/>
<path class="w" d="M1280.3,877.8 L1283.4,877.4 L1283.4,883.2 L1280.3,880.6Z"/>
<path class="w" d="M383.2,1096.2 L391.4,1092.1 L390.2,1089.5 L381.9,1093.7Z"/>
<path class="c" d="M381.4,1098 L383.5,1096.9 L381.6,1093 L379.4,1094Z" fill="#444"/>
<path class="c" d="M381.5,1095.5 A1.2,2.2 -26.6 1 1 379.3,1096.5 A1.2,2.2 -26.6 1 1 381.5,1095.5 Z" fill="#555"/>
<path class="f" d="M381,1095.7 A0.7,1.2 -26.6 1 1 379.8,1096.3 A0.7,1.2 -26.6 1 1 381,1095.7 Z"/>
<path class="w" d="M406,1087.3 L413.4,1083.9 L412.2,1081.3 L404.8,1084.8Z"/>
<path class="c" d="M404,1089.4 L406.4,1088.3 L404.4,1083.9 L402,1085Z" fill="#444"/>
<path class="c" d="M404.2,1086.6 A1.3,2.4 -25.1 1 1 401.8,1087.8 A1.3,2.4 -25.1 1 1 404.2,1086.6 Z" fill="#555"/>
<path class="f" d="M403.7,1086.9 A0.7,1.3 -25.1 1 1 402.3,1087.5 A0.7,1.3 -25.1 1 1 403.7,1086.9 Z"/>
<path class="w" d="M422,1084.4 L430,1063 L440,1050 L446,1054 L456.4,1060 L458,1066.4 L450,1074 L446.4,1088 L432.4,1094.4Z"/>
<path class="k" d="M430,1063 L439,1070 L450,1074 M439,1070 L432.4,1094.4"/>
<path class="k2" d="M440,1050 L443,1058 L456.4,1060"/>
<path class="k" d="M432,1070 A2,2.2 0 1 1 428,1070 A2,2.2 0 1 1 432,1070 Z M444.4,1085.6 A2,1.6 0 1 1 440.4,1085.6 A2,1.6 0 1 1 444.4,1085.6 Z M447.2,1074 A1.6,1.6 0 1 1 444,1074 A1.6,1.6 0 1 1 447.2,1074 Z"/>
<path class="k2" d="M441,1078 L449,1071"/>
<path class="k" d="M436,1082 L445,1082"/>
<path class="k2" d="M 456,1061 C 464,1064 466,1068 472,1071 C 484,1078 498,1082 508,1078 C 513,1075 513,1068 513.6,1055"/>
<path class="k" d="M 455.6,1063.6 C 463,1066.4 465,1070.4 471,1073.4 C 484,1080.6 499,1084.6 509.6,1080.4 C 515.6,1077 515.6,1068 516.4,1055.6"/>
<path class="w" d="M508,1044.4 L518,1042.4 L525,1047 L525,1053 L517,1056.4 L508,1054Z"/>
<path class="w" d="M525,1050 A2.6,3.6 0 1 1 519.8,1050 A2.6,3.6 0 1 1 525,1050 Z"/>
<path class="w" d="M459.6,1063 A2.4,3.2 0 1 1 454.8,1063 A2.4,3.2 0 1 1 459.6,1063 Z"/>
<path class="w" d="M 474,1022.4 L 491,1013 C 498,1020 504,1028 508,1035 L 491,1047 C 491,1042 490,1040 488,1038 C 484,1034 478,1030 474,1022.4 Z"/>
<path class="w" d="M505.2,1027.7 A6.6,8.4 -20 1 1 492.8,1032.3 A6.6,8.4 -20 1 1 505.2,1027.7 Z"/>
<path class="w" d="M501.8,1029.3 A6.6,8.4 -20 1 1 489.4,1033.9 A6.6,8.4 -20 1 1 501.8,1029.3 Z"/>
<path class="k2" d="M499.7,1030.1 A4.4,6 -20 1 1 491.5,1033.1 A4.4,6 -20 1 1 499.7,1030.1 Z"/>
<path class="c" d="M552.4,1051 L557,1048 L562.4,1050 L563,1056.4 L558.4,1060 L553,1057.6Z" fill="#333"/>
<path class="w" d="M559.6,1054 A2.4,3 0 1 1 554.8,1054 A2.4,3 0 1 1 559.6,1054 Z"/>
<path class="k2" d="M572.8,1048 A3.4,4.8 -20 1 1 566.4,1050.4 A3.4,4.8 -20 1 1 572.8,1048 Z M571.9,1048.4 A2.4,3.6 -20 1 1 567.3,1050 A2.4,3.6 -20 1 1 571.9,1048.4 Z"/>
<path class="w" d="M587.3,1038.9 A4.4,5.8 -20 1 1 579.1,1041.9 A4.4,5.8 -20 1 1 587.3,1038.9 Z"/>
<path class="k" d="M584.7,1039.9 A1.6,2 -20 1 1 581.7,1040.9 A1.6,2 -20 1 1 584.7,1039.9 Z"/>
<path class="w2" d="M643.7,992.9 A25.3,33.3 -8 0 1 645.8,1055.3"/>
<path class="k2" d="M640.2,998.2 A20,28.3 -8 0 1 642.4,1051.1 M623.7,1006.5 L642.1,1001"/>
<path class="k" d="M625.9,1008.2 L642.1,1001"/>
<path class="k2" d="M627.6,1010 L647.3,1006.3"/>
<path class="k" d="M629.3,1012.3 L647.3,1006.3"/>
<path class="k2" d="M630.6,1014.6 L651.3,1013.2"/>
<path class="k" d="M631.9,1017.3 L651.3,1013.2"/>
<path class="k2" d="M632.7,1019.9 L653.9,1021.1"/>
<path class="k" d="M633.2,1022.9 L653.9,1021.1"/>
<path class="k2" d="M633.5,1025.6 L654.8,1029.2"/>
<path class="k" d="M633.3,1028.5 L654.8,1029.2"/>
<path class="k2" d="M633,1031.1 L653.9,1036.9"/>
<path class="k" d="M632.2,1033.7 L653.9,1036.9"/>
<path class="k2" d="M631.2,1035.9 L651.3,1043.5"/>
<path class="k" d="M629.8,1038 L651.3,1043.5"/>
<path class="k2" d="M628.4,1039.6 L647.2,1048.4"/>
<path class="k" d="M626.5,1041 L647.2,1048.4"/>
<path class="w" d="M619.2,1006.5 L622.5,993.7 L636.4,985.7 L633.1,998.5Z"/>
<path class="k2" d="M619.2,1006.5 L622.5,993.7 M622.5,993.7 L636.4,985.7"/>
<path class="w" d="M615.9,1005.2 L616.6,991.5 L630.5,983.5 L629.8,997.2Z"/>
<path class="k2" d="M615.9,1005.2 L616.6,991.5 M616.6,991.5 L630.5,983.5"/>
<path class="w" d="M612.5,1004.8 L610.7,991 L624.6,983 L626.5,996.8Z"/>
<path class="k2" d="M612.5,1004.8 L610.7,991 M610.7,991 L624.6,983"/>
<path class="w" d="M609.3,1005.5 L605,992.2 L618.9,984.2 L623.3,997.5Z"/>
<path class="k2" d="M609.3,1005.5 L605,992.2 M605,992.2 L618.9,984.2"/>
<path class="w" d="M606.4,1007.1 L599.8,995 L613.7,987 L620.4,999.1Z"/>
<path class="k2" d="M606.4,1007.1 L599.8,995 M599.8,995 L613.7,987"/>
<path class="w" d="M604,1009.6 L595.4,999.3 L609.3,991.3 L617.9,1001.6Z"/>
<path class="k2" d="M604,1009.6 L595.4,999.3 M595.4,999.3 L609.3,991.3"/>
<path class="w" d="M602.2,1012.8 L592,1004.9 L606,996.9 L616.1,1004.8Z"/>
<path class="k2" d="M602.2,1012.8 L592,1004.9 M592,1004.9 L606,996.9"/>
<path class="w" d="M601,1016.6 L589.9,1011.4 L603.8,1003.4 L614.9,1008.6Z"/>
<path class="k2" d="M601,1016.6 L589.9,1011.4 M589.9,1011.4 L603.8,1003.4"/>
<path class="w" d="M600.5,1020.7 L589,1018.6 L602.9,1010.6 L614.5,1012.7Z"/>
<path class="k2" d="M600.5,1020.7 L589,1018.6 M589,1018.6 L602.9,1010.6"/>
<path class="w" d="M600.5,1021.1 L589,1019.2 L602.9,1011.2 L614.5,1013.1Z"/>
<path class="k2" d="M600.5,1021.1 L589,1019.2 M589,1019.2 L602.9,1011.2"/>
<path class="w" d="M600.9,1025.4 L589.6,1026.7 L603.5,1018.7 L614.8,1017.4Z"/>
<path class="k2" d="M600.9,1025.4 L589.6,1026.7 M589.6,1026.7 L603.5,1018.7"/>
<path class="w" d="M602,1029.7 L591.5,1034 L605.4,1026 L615.9,1021.7Z"/>
<path class="k2" d="M602,1029.7 L591.5,1034 M591.5,1034 L605.4,1026"/>
<path class="w" d="M603.8,1033.6 L594.7,1040.8 L608.6,1032.8 L617.7,1025.6Z"/>
<path class="k2" d="M603.8,1033.6 L594.7,1040.8 M594.7,1040.8 L608.6,1032.8"/>
<path class="w" d="M606.2,1037.1 L598.8,1046.8 L609.9,1040.4 L617.2,1030.8Z"/>
<path class="k2" d="M606.2,1037.1 L598.8,1046.8 M598.8,1046.8 L609.9,1040.4"/>
<path class="w" d="M609.1,1039.9 L603.9,1051.6 L614.9,1045.2 L620.1,1033.6Z"/>
<path class="k2" d="M609.1,1039.9 L603.9,1051.6 M603.9,1051.6 L614.9,1045.2"/>
<path class="w" d="M612.2,1041.9 L609.5,1054.9 L620.5,1048.6 L623.3,1035.6Z"/>
<path class="k2" d="M612.2,1041.9 L609.5,1054.9 M609.5,1054.9 L620.5,1048.6"/>
<path class="w" d="M615.6,1043 L615.4,1056.7 L623.6,1052.1 L623.7,1038.3Z"/>
<path class="k2" d="M615.6,1043 L615.4,1056.7 M615.4,1056.7 L623.6,1052.1"/>
<path class="w" d="M618.9,1043.1 L621.3,1056.8 L629.5,1052.2 L627,1038.4Z"/>
<path class="k2" d="M618.9,1043.1 L621.3,1056.8 M621.3,1056.8 L629.5,1052.2"/>
<path class="w" d="M622,1042.2 L627,1055.3 L635.1,1050.6 L630.1,1037.5Z"/>
<path class="k2" d="M622,1042.2 L627,1055.3 M627,1055.3 L635.1,1050.6"/>
<path class="w" d="M624.8,1040.4 L632,1052.1 L640.1,1047.4 L632.9,1035.7Z"/>
<path class="k2" d="M624.8,1040.4 L632,1052.1 M632,1052.1 L640.1,1047.4"/>
<path class="w" d="M629.2,1020.3 A14.4,19.5 -15 1 1 601.4,1027.7 A14.4,19.5 -15 1 1 629.2,1020.3 Z"/>
<path class="k2" d="M628.7,1020.4 A13.9,18.9 -15 1 1 601.9,1027.6 A13.9,18.9 -15 1 1 628.7,1020.4 Z M627,1021.1 A11.2,15.7 -15 1 1 605.3,1026.9 A11.2,15.7 -15 1 1 627,1021.1 Z"/>
<path class="c" d="M609.3,1013.3 L615.3,1011.3 L618,1020 L612,1022.7Z" fill="#333"/>
<path class="c" d="M612,1029.3 L619.3,1026.7 L622.7,1036 L616,1039.3Z" fill="#333"/>
<path class="w" d="M622.2,1021.9 A2.9,4 -15 1 1 616.5,1023.4 A2.9,4 -15 1 1 622.2,1021.9 Z"/>
<path class="k2" d="M608,1020 L613.3,1034.7 M621.3,1013.3 L625.3,1029.3 M 454,1136 C 462,1132 468,1126 474,1122 C 482,1117 490,1110 498,1106 C 503,1104.4 506,1103.6 508.4,1101.6"/>
<path class="f" d="M393.6,1122 L398,1118 L407,1119 L413,1123 L420,1124 L421,1127 L413,1129 L406,1130 L397,1128Z"/>
<path class="c" d="M403.5,1123.1 A1.6,3.2 -20 1 1 400.5,1124.1 A1.6,3.2 -20 1 1 403.5,1123.1 Z" fill="#999"/>
<path class="c" d="M410.9,1125.7 A1,2.4 -20 1 1 409.1,1126.3 A1,2.4 -20 1 1 410.9,1125.7 Z" fill="#999"/>
<path class="r" d="M920,555.8 L966.7,531.7 L1000,550 M119.7,909.2 L163.3,886.2 M175.8,899.7 L258,856.2 M273.3,848 L300.3,833.8 M264.2,783 L297.5,801.3 L310,800 L331.7,788.7 M297.5,807.5 L305,810.3 L331.7,795.8 M260.3,794.2 L311.7,767.5 M297,809.2 L313.3,800.8 M317,875 L348.7,857.5 M371.6,747 L371.6,754.4 L405.4,774.8 L405.4,778.7 M425.8,768 L406,778.7 L300,832.6 M300,840.5 L383.9,798 M313,836.5 L377.1,804.8 M402.6,819.5 L447.3,838.2 L447.3,850.1 M536.7,709.7 L447.5,756.7 M392.7,890 L412,879.3 L373.3,858 L394,847.3 M320,844 L348.7,857.3 L320,872.7 M294.2,323.3 L315,335 M330,342 L350.8,353.7 M274.2,333.3 L300.8,348.7 M310,352.5 L340.8,368.7 M551.6,396.7 L542.7,438 M553.6,411.3 L543.7,462 M525.3,428.7 L520,450 M647.3,550 L638,590.7 M539.1,643.3 L528.7,648.7 L555.3,668 L560,665.6 M560,666.7 L628.3,629.9 M560,697.5 L590.7,680.6 M660.5,644.3 L720,613.4 M577.9,672.9 L601.6,659.6 L598.4,672.9 M740,546 L759.2,536.4 M740,579.8 L752,569.4 L772.4,579 L796.4,569 M740,603 L894.8,520.2 M758,603.6 L827.6,566.6 M781.4,598.2 L824,575 M876.8,589.8 L902.6,576 L892.4,570 L920,555.8 M844.3,463.3 L826,472.7 L862.7,492 M863.3,492.4 L821.6,512.7 M901.6,483.3 L836,522 M908.3,514.7 L1020,455.3 M733.6,550 L758.7,537.6 M1066.7,461.3 L1066.7,481.1 M1010,460 L1148,385.6 M1168,375.7 L1196.7,360.3 M1304.8,304.3 L1356,276.8 M1000,550 L1017,558.5 L1031,551.2 M859.2,755.8 L901.7,771.7 L910.8,767.5 L920.8,767.5 L930,773 M839.2,765.3 L861.7,773.7 M868.3,776.7 L893.3,784.2 L874.2,792.5 L884.2,796.7 M888.7,771.7 L924.2,790 M988.3,806.7 L1060,833.3 M977.5,815.8 L1050.8,843.7 M1040,828.8 L1053.5,833.8 M1040,835.1 L1050.8,839.2 M1084.6,835.1 L1112.9,808.1 L1226.3,854.4 M1126.4,863.4 L1142.6,864.8 L1148,868 L1162,872 M1128.2,873.8 L1107.5,886.4 L1113.8,889.5 M413.2,1082.4 L430,1071 M588,1038 L620,1021.4"/>
<path class="rs" d="M163.8,927.3 L192,912.7 M194.7,806.7 L205,799.5 M213.7,792.7 L226.7,786.3 M272.3,813 L278,810.3 M258.7,905.3 L265,902 M276.7,896.7 L281.7,893.7 M290,889.7 L296.7,886.3 M347.6,767.4 L361.8,774.8 M378.3,728.3 L384.2,726.2 M387.5,724.5 L398.3,719.2 M392,709.2 L395,707.5 M410.3,700.8 L415,698.3 M372,741.2 L372,754.2 M340.3,917.3 L350,912.3 M360,906.7 L363.3,904.7 M447.6,840 L447.6,850.7 M326.3,392 L340.8,400 M409.2,383.3 L415.8,386.7 M386.7,392.8 L400,400 M460,410.3 L464.7,412.7 M445,423.7 L456.7,429.3 M582.9,418.7 L578.7,431.6 L570.7,436 L565.3,451.3 M565.3,483.3 L573.3,486.3 M545.3,494 L560.7,498.7 M622.7,598.7 L616.3,602.4 M609.1,606 L606.7,607.3 M597.1,612.7 L594.7,614 M582.7,619.6 L580.3,620.9 M559.7,632.7 L556.7,634.3 M547.3,639.1 L544.7,640.3 M849.2,500.4 L863.6,508.1 M908.3,479.6 L909.6,478.9 M918.9,475.3 L925.1,472.1 M987.7,418 L995.3,414 M693.3,576 L696.7,579.6 M742.7,575.3 L740,576.9 M716.7,612.7 L719.3,611.3 M1041.3,402.4 L1041.3,420 M1048.9,424.7 L1067.3,415.6 M1072.7,442.7 L1083.6,436.3 M1103.3,375.7 L1115.3,369.6 M1140.4,409.6 L1149.7,405.1 M1144,388 L1148.7,385.3 M1212,354.1 L1214.9,352.5 M1265.6,324.8 L1267.7,323.7 M1285.6,314.4 L1290.4,311.7 M1052,540 L1055.8,538 M1065.5,533.2 L1069.2,531.2 M1079,526 L1084.8,523 M1236.2,859.8 L1246.1,864.8 M1088.6,849.5 L1101.2,854.9 M390.8,1090.8 L400.4,1086.8 M563,1053 L567,1050.8 M573,1047.2 L579.2,1043.6"/></g>
<g fill="none" stroke="#2a2ab0" stroke-width="1.25" stroke-linecap="round" stroke-linejoin="round"><path d="M11.7,830.8 L16.3,830.8 L115,908 M53.4,805.8 L62.1,805.8 L165,883 M108.9,777 L117.6,777 L182,811 M146.4,756.7 L155.1,756.7 L210,792 M183,738.3 L191.7,738.3 L263,782 M200.7,844.2 L209.4,844.2 L255,822 M229.3,714.4 L238,714.4 L317.3,754 M277.7,689 L286.4,689 L370.7,730 M303.9,674.4 L312.6,674.4 L388.7,709 M323.9,660 L340.1,660 L408,699.3 M348.9,648.7 L360.9,648.7 L423,693 M195.7,870.8 L211.8,870.8 L262,850 M366.9,971.3 L350.8,971.3 L255,908 M328.1,908 L311.9,908 L288,892 M339.4,891 L355.6,891 L367,900 M423.1,940 L406.9,940 L355,910 M456.6,922 L440.4,922 L388,892 M487.4,905.3 L471.2,905.3 L327,830 M509.1,560 L529.2,560 L600,606 M482.6,574 L502.7,574 L588.3,615 M456.9,587.3 L477.1,587.3 L563.3,628.3 M435.8,601.7 L451.8,601.7 L540,640 M521.7,887.3 L501.6,887.3 L450,860 M592.5,846.7 L576.5,846.7 L441.7,766.7 M638.9,820.7 L622.8,820.7 L506,751.7 M736.4,769.3 L716.3,769.3 L580,675 M771.7,749.3 L751.6,749.3 L638.3,675 M829.4,718.3 L809.3,718.3 L646.7,598.3 M862.7,698.3 L846.6,698.3 L735,613.3 M758,818.3 L778,818.3 L840.7,766 M787.3,829.3 L807.4,829.3 L866.7,778.3 M816.6,841.7 L836.7,841.7 L885,798.3 M625.8,499 L645.9,499 L688.3,571.7 M652.1,485.7 L672.2,485.7 L728.3,581.7 M682.2,472.7 L698.2,472.7 L730.7,548.3 M703,459 L723,459 L756.7,538.3 M763.6,426 L783.7,426 L851.7,521.7 M804.6,405 L824.7,405 L855,455 M833.6,390 L853.7,390 L904,481.7 M855,379 L875,379 L913.3,476.7 M877.5,366.7 L897.5,366.7 L928.3,469.3 M909.5,353.3 L925.5,353.3 L950,426.7 M929.1,340 L949.2,340 L976,406.7 M953.3,326 L973.4,326 L999.3,410 M1044.5,599.3 L1024.5,599.3 L909.3,518.3 M999.7,625 L979.6,625 L919.3,580 M913.4,671.7 L893.3,671.7 L813.3,608.3 M1261.4,165.3 L1280,165.3 L1326.7,260 M1199.3,197.7 L1219.4,197.7 L1276,312.7 M1178.3,212.7 L1194.3,212.7 L1255,326 M1144.5,227.3 L1164.5,227.3 L1220,346 M1099.1,250.7 L1119.2,250.7 L1156.7,376.7 M1049.5,276.7 L1069.5,276.7 L1100,390 M1017.5,294 L1037.5,294 L1068.3,445 M993,307.3 L1013,307.3 L1041.7,391.7 M1485.2,357.7 L1465.1,357.7 L1373.3,285 M1451.7,376 L1431.6,376 L1343.3,305 M1418.4,394.3 L1398.3,394.3 L1315,318.3 M1324.7,446 L1304.6,446 L1206,363.3 M1273.7,473.3 L1253.6,473.3 L1159.3,403.3 M1213,507.7 L1193,507.7 L1093.3,434 M1159.5,536 L1139.5,536 L1070.7,486.7 M1130.9,549.3 L1114.8,549.3 L1092.7,523.3 M1106.4,564 L1090.3,564 L1062.7,537.3 M1080,577.7 L1064,577.7 L1040,553.3 M1050,516.7 L1066,516.7 L1075,528.3 M987,734 L967,734 L948.3,752.7 M1015.5,745.7 L995.5,745.7 L963.3,772.7 M1044.7,758.3 L1028.7,758.3 L980.7,801.7 M1070.9,767.3 L1050.8,767.3 L1001.7,814 M1095,777.3 L1075,777.3 L1045,810.7 M1130.9,790.7 L1110.8,790.7 L1076,833.3 M1170.9,806.7 L1150.8,806.7 L1124,845 M1201.7,819 L1181.6,819 L1138.3,881.7 M1232.5,830 L1212.5,830 L1178.3,876.7 M1259.2,840.7 L1239.1,840.7 L1230,859.3 M1301.2,856.7 L1281.1,856.7 L1270,876 M979.6,905 L999.7,905 L1023.3,883.3 M550,948.3 L570,948.3 L605,1023.3 M527,961 L547,961 L581.7,1040 M509.8,974 L525.8,974 L568.3,1046.7 M483.6,987.3 L503.7,987.3 L556,1051.7 M452.9,1005 L473.1,1005 L488.3,1018.3 M394.6,1040 L414.7,1040 L436.7,1060 M336.6,1074 L356.7,1074 L381.7,1093.3 M546.5,1159 L526.5,1159 L478.3,1120.7 M508.1,1182.7 L487.9,1182.7 L406.7,1130.7 M370.1,256 L349.9,256 L293.3,320 M396.7,270.7 L376.6,270.7 L305,326.7 M420.1,283.3 L399.9,283.3 L326.7,331.7 M452.6,301 L432.4,301 L335,356.7 M495.9,325.7 L475.8,325.7 L396.7,346.7 M555.2,360 L539.2,360 L440,395 M613.7,390 L593.6,390 L584,406.7 M322.4,465.7 L342.6,465.7 L466.7,440.7 M397.8,506.7 L417.9,506.7 L508.3,486 M476.3,529.3 L496.4,529.3 L528.3,526.7 M559.6,533.3 L579.7,533.3 L626,549.3"/></g>
<g fill="none" stroke="#4e4ed0" stroke-width="1.15" stroke-linecap="round" stroke-linejoin="round">
<use href="#g1" transform="translate(12,812.4) scale(0.900,0.986)"/>
<use href="#g2" transform="translate(53.7,787.4) scale(0.900,0.986)"/>
<use href="#g3" transform="translate(109.2,758.6) scale(0.900,0.986)"/>
<use href="#g4" transform="translate(146.7,738.3) scale(0.900,0.986)"/>
<use href="#g5" transform="translate(183.3,719.9) scale(0.900,0.986)"/>
<use href="#g6" transform="translate(201,825.8) scale(0.900,0.986)"/>
<use href="#g7" transform="translate(229.6,696) scale(0.900,0.986)"/>
<use href="#g8" transform="translate(278,670.6) scale(0.900,0.986)"/>
<use href="#g9" transform="translate(304.2,656) scale(0.900,0.986)"/>
<use href="#g1" transform="translate(324.2,641.6) scale(0.900,0.986)"/>
<use href="#g0" transform="translate(331.6,641.6) scale(0.900,0.986)"/>
<use href="#g1" transform="translate(349.2,630.3) scale(0.900,0.986)"/>
<use href="#g1" transform="translate(356.6,630.3) scale(0.900,0.986)"/>
<use href="#g1" transform="translate(196,852.4) scale(0.900,0.986)"/>
<use href="#g4" transform="translate(203.4,852.4) scale(0.900,0.986)"/>
<use href="#g1" transform="translate(351.1,952.9) scale(0.900,0.986)"/>
<use href="#g5" transform="translate(358.5,952.9) scale(0.900,0.986)"/>
<use href="#g1" transform="translate(312.2,889.6) scale(0.900,0.986)"/>
<use href="#g9" transform="translate(319.6,889.6) scale(0.900,0.986)"/>
<use href="#g1" transform="translate(339.8,872.6) scale(0.900,0.986)"/>
<use href="#g9" transform="translate(347.1,872.6) scale(0.900,0.986)"/>
<use href="#g1" transform="translate(407.2,921.6) scale(0.900,0.986)"/>
<use href="#g7" transform="translate(414.6,921.6) scale(0.900,0.986)"/>
<use href="#g1" transform="translate(440.8,903.6) scale(0.900,0.986)"/>
<use href="#g8" transform="translate(448.1,903.6) scale(0.900,0.986)"/>
<use href="#g1" transform="translate(471.6,886.9) scale(0.900,0.986)"/>
<use href="#g6" transform="translate(478.9,886.9) scale(0.900,0.986)"/>
<use href="#g2" transform="translate(509.4,541.6) scale(0.900,0.986)"/>
<use href="#g4" transform="translate(520.8,541.6) scale(0.900,0.986)"/>
<use href="#g2" transform="translate(482.9,555.6) scale(0.900,0.986)"/>
<use href="#g3" transform="translate(494.3,555.6) scale(0.900,0.986)"/>
<use href="#g2" transform="translate(457.2,568.9) scale(0.900,0.986)"/>
<use href="#g2" transform="translate(468.6,568.9) scale(0.900,0.986)"/>
<use href="#gs" transform="translate(480.9,569.9)"/>
<use href="#g2" transform="translate(436.1,583.3) scale(0.900,0.986)"/>
<use href="#g1" transform="translate(447.5,583.3) scale(0.900,0.986)"/>
<use href="#g2" transform="translate(501.9,868.9) scale(0.900,0.986)"/>
<use href="#g0" transform="translate(513.3,868.9) scale(0.900,0.986)"/>
<use href="#g1" transform="translate(576.8,828.3) scale(0.900,0.986)"/>
<use href="#g2" transform="translate(584.1,828.3) scale(0.900,0.986)"/>
<use href="#g1" transform="translate(623.1,802.3) scale(0.900,0.986)"/>
<use href="#g3" transform="translate(630.5,802.3) scale(0.900,0.986)"/>
<use href="#g2" transform="translate(716.6,750.9) scale(0.900,0.986)"/>
<use href="#g6" transform="translate(728,750.9) scale(0.900,0.986)"/>
<use href="#g2" transform="translate(751.9,730.9) scale(0.900,0.986)"/>
<use href="#g7" transform="translate(763.3,730.9) scale(0.900,0.986)"/>
<use href="#ga" transform="translate(775.6,731.9)"/>
<use href="#g2" transform="translate(809.6,699.9) scale(0.900,0.986)"/>
<use href="#g8" transform="translate(821,699.9) scale(0.900,0.986)"/>
<use href="#gs" transform="translate(833.3,700.9)"/>
<use href="#g1" transform="translate(846.9,679.9) scale(0.900,0.986)"/>
<use href="#g2" transform="translate(854.3,679.9) scale(0.900,0.986)"/>
<use href="#g7" transform="translate(758.2,799.9) scale(0.900,0.986)"/>
<use href="#g7" transform="translate(769.6,799.9) scale(0.900,0.986)"/>
<use href="#g7" transform="translate(787.6,810.9) scale(0.900,0.986)"/>
<use href="#g8" transform="translate(799,810.9) scale(0.900,0.986)"/>
<use href="#g7" transform="translate(816.9,823.3) scale(0.900,0.986)"/>
<use href="#g9" transform="translate(828.3,823.3) scale(0.900,0.986)"/>
<use href="#g2" transform="translate(626.1,480.6) scale(0.900,0.986)"/>
<use href="#g9" transform="translate(637.5,480.6) scale(0.900,0.986)"/>
<use href="#g3" transform="translate(652.4,467.3) scale(0.900,0.986)"/>
<use href="#g0" transform="translate(663.8,467.3) scale(0.900,0.986)"/>
<use href="#g3" transform="translate(682.5,454.3) scale(0.900,0.986)"/>
<use href="#g1" transform="translate(693.9,454.3) scale(0.900,0.986)"/>
<use href="#g3" transform="translate(703.2,440.6) scale(0.900,0.986)"/>
<use href="#g2" transform="translate(714.6,440.6) scale(0.900,0.986)"/>
<use href="#g3" transform="translate(763.9,407.6) scale(0.900,0.986)"/>
<use href="#g4" transform="translate(775.3,407.6) scale(0.900,0.986)"/>
<use href="#g3" transform="translate(804.9,386.6) scale(0.900,0.986)"/>
<use href="#g7" transform="translate(816.3,386.6) scale(0.900,0.986)"/>
<use href="#g3" transform="translate(833.9,371.6) scale(0.900,0.986)"/>
<use href="#g8" transform="translate(845.3,371.6) scale(0.900,0.986)"/>
<use href="#g3" transform="translate(855.2,360.6) scale(0.900,0.986)"/>
<use href="#g6" transform="translate(866.6,360.6) scale(0.900,0.986)"/>
<use href="#g3" transform="translate(877.8,348.3) scale(0.900,0.986)"/>
<use href="#g9" transform="translate(889.1,348.3) scale(0.900,0.986)"/>
<use href="#g4" transform="translate(909.8,334.9) scale(0.900,0.986)"/>
<use href="#g1" transform="translate(921.2,334.9) scale(0.900,0.986)"/>
<use href="#g4" transform="translate(929.4,321.6) scale(0.900,0.986)"/>
<use href="#g3" transform="translate(940.8,321.6) scale(0.900,0.986)"/>
<use href="#g4" transform="translate(953.6,307.6) scale(0.900,0.986)"/>
<use href="#g2" transform="translate(965,307.6) scale(0.900,0.986)"/>
<use href="#g3" transform="translate(1024.8,580.9) scale(0.900,0.986)"/>
<use href="#g5" transform="translate(1036.2,580.9) scale(0.900,0.986)"/>
<use href="#g4" transform="translate(979.9,606.6) scale(0.900,0.986)"/>
<use href="#g0" transform="translate(991.3,606.6) scale(0.900,0.986)"/>
<use href="#g3" transform="translate(893.6,653.3) scale(0.900,0.986)"/>
<use href="#g3" transform="translate(905,653.3) scale(0.900,0.986)"/>
<use href="#gA" transform="translate(1261.7,146.9) scale(0.900,0.986)"/>
<use href="#g1" transform="translate(1275.7,146.9) scale(0.900,0.986)"/>
<use href="#g5" transform="translate(1199.6,179.3) scale(0.900,0.986)"/>
<use href="#g2" transform="translate(1211,179.3) scale(0.900,0.986)"/>
<use href="#g5" transform="translate(1178.6,194.3) scale(0.900,0.986)"/>
<use href="#g1" transform="translate(1190,194.3) scale(0.900,0.986)"/>
<use href="#g5" transform="translate(1144.8,208.9) scale(0.900,0.986)"/>
<use href="#g0" transform="translate(1156.2,208.9) scale(0.900,0.986)"/>
<use href="#g4" transform="translate(1099.4,232.3) scale(0.900,0.986)"/>
<use href="#g7" transform="translate(1110.8,232.3) scale(0.900,0.986)"/>
<use href="#g4" transform="translate(1049.8,258.3) scale(0.900,0.986)"/>
<use href="#g6" transform="translate(1061.2,258.3) scale(0.900,0.986)"/>
<use href="#g4" transform="translate(1017.8,275.6) scale(0.900,0.986)"/>
<use href="#g5" transform="translate(1029.2,275.6) scale(0.900,0.986)"/>
<use href="#g4" transform="translate(993.2,288.9) scale(0.900,0.986)"/>
<use href="#g4" transform="translate(1004.6,288.9) scale(0.900,0.986)"/>
<use href="#g5" transform="translate(1465.4,339.3) scale(0.900,0.986)"/>
<use href="#g6" transform="translate(1476.8,339.3) scale(0.900,0.986)"/>
<use href="#g5" transform="translate(1431.9,357.6) scale(0.900,0.986)"/>
<use href="#g5" transform="translate(1443.3,357.6) scale(0.900,0.986)"/>
<use href="#g5" transform="translate(1398.6,375.9) scale(0.900,0.986)"/>
<use href="#g4" transform="translate(1410,375.9) scale(0.900,0.986)"/>
<use href="#g4" transform="translate(1304.9,427.6) scale(0.900,0.986)"/>
<use href="#g3" transform="translate(1316.3,427.6) scale(0.900,0.986)"/>
<use href="#g4" transform="translate(1253.9,454.9) scale(0.900,0.986)"/>
<use href="#g2" transform="translate(1265.3,454.9) scale(0.900,0.986)"/>
<use href="#g4" transform="translate(1193.2,489.3) scale(0.900,0.986)"/>
<use href="#g9" transform="translate(1204.7,489.3) scale(0.900,0.986)"/>
<use href="#g4" transform="translate(1139.8,517.6) scale(0.900,0.986)"/>
<use href="#g8" transform="translate(1151.2,517.6) scale(0.900,0.986)"/>
<use href="#g1" transform="translate(1115.1,530.9) scale(0.900,0.986)"/>
<use href="#g5" transform="translate(1122.5,530.9) scale(0.900,0.986)"/>
<use href="#g1" transform="translate(1090.6,545.6) scale(0.900,0.986)"/>
<use href="#g9" transform="translate(1098,545.6) scale(0.900,0.986)"/>
<use href="#g1" transform="translate(1064.2,559.3) scale(0.900,0.986)"/>
<use href="#g8" transform="translate(1071.7,559.3) scale(0.900,0.986)"/>
<use href="#g1" transform="translate(1050.2,498.3) scale(0.900,0.986)"/>
<use href="#g7" transform="translate(1057.7,498.3) scale(0.900,0.986)"/>
<use href="#g7" transform="translate(967.2,715.6) scale(0.900,0.986)"/>
<use href="#g9" transform="translate(978.6,715.6) scale(0.900,0.986)"/>
<use href="#g8" transform="translate(995.8,727.3) scale(0.900,0.986)"/>
<use href="#g0" transform="translate(1007.1,727.3) scale(0.900,0.986)"/>
<use href="#g8" transform="translate(1029,739.9) scale(0.900,0.986)"/>
<use href="#g1" transform="translate(1040.4,739.9) scale(0.900,0.986)"/>
<use href="#g8" transform="translate(1051.1,748.9) scale(0.900,0.986)"/>
<use href="#g2" transform="translate(1062.5,748.9) scale(0.900,0.986)"/>
<use href="#g8" transform="translate(1075.2,758.9) scale(0.900,0.986)"/>
<use href="#g3" transform="translate(1086.7,758.9) scale(0.900,0.986)"/>
<use href="#g8" transform="translate(1111.1,772.3) scale(0.900,0.986)"/>
<use href="#g4" transform="translate(1122.5,772.3) scale(0.900,0.986)"/>
<use href="#gd" transform="translate(1134.8,773.3)"/>
<use href="#g8" transform="translate(1151.1,788.3) scale(0.900,0.986)"/>
<use href="#g5" transform="translate(1162.5,788.3) scale(0.900,0.986)"/>
<use href="#g8" transform="translate(1181.9,800.6) scale(0.900,0.986)"/>
<use href="#g6" transform="translate(1193.3,800.6) scale(0.900,0.986)"/>
<use href="#g8" transform="translate(1212.8,811.6) scale(0.900,0.986)"/>
<use href="#g7" transform="translate(1224.2,811.6) scale(0.900,0.986)"/>
<use href="#g8" transform="translate(1239.4,822.3) scale(0.900,0.986)"/>
<use href="#g8" transform="translate(1250.8,822.3) scale(0.900,0.986)"/>
<use href="#g8" transform="translate(1281.4,838.3) scale(0.900,0.986)"/>
<use href="#g9" transform="translate(1292.8,838.3) scale(0.900,0.986)"/>
<use href="#g7" transform="translate(979.9,886.6) scale(0.900,0.986)"/>
<use href="#g6" transform="translate(991.3,886.6) scale(0.900,0.986)"/>
<use href="#g7" transform="translate(550.2,929.9) scale(0.900,0.986)"/>
<use href="#g3" transform="translate(561.6,929.9) scale(0.900,0.986)"/>
<use href="#g7" transform="translate(527.2,942.6) scale(0.900,0.986)"/>
<use href="#g2" transform="translate(538.6,942.6) scale(0.900,0.986)"/>
<use href="#g7" transform="translate(510.1,955.6) scale(0.900,0.986)"/>
<use href="#g1" transform="translate(521.5,955.6) scale(0.900,0.986)"/>
<use href="#g7" transform="translate(483.9,968.9) scale(0.900,0.986)"/>
<use href="#g0" transform="translate(495.3,968.9) scale(0.900,0.986)"/>
<use href="#g6" transform="translate(453.2,986.6) scale(0.900,0.986)"/>
<use href="#g9" transform="translate(464.6,986.6) scale(0.900,0.986)"/>
<use href="#g6" transform="translate(394.9,1021.6) scale(0.900,0.986)"/>
<use href="#g8" transform="translate(406.3,1021.6) scale(0.900,0.986)"/>
<use href="#g6" transform="translate(336.9,1055.6) scale(0.900,0.986)"/>
<use href="#g7" transform="translate(348.3,1055.6) scale(0.900,0.986)"/>
<use href="#g7" transform="translate(526.8,1140.6) scale(0.900,0.986)"/>
<use href="#g5" transform="translate(538.1,1140.6) scale(0.900,0.986)"/>
<use href="#g7" transform="translate(488.2,1164.3) scale(0.900,0.986)"/>
<use href="#g4" transform="translate(499.6,1164.3) scale(0.900,0.986)"/>
<use href="#g6" transform="translate(350.2,237.6) scale(0.900,0.986)"/>
<use href="#g6" transform="translate(361.6,237.6) scale(0.900,0.986)"/>
<use href="#g6" transform="translate(376.9,252.3) scale(0.900,0.986)"/>
<use href="#g5" transform="translate(388.3,252.3) scale(0.900,0.986)"/>
<use href="#g6" transform="translate(400.2,264.9) scale(0.900,0.986)"/>
<use href="#g4" transform="translate(411.6,264.9) scale(0.900,0.986)"/>
<use href="#g6" transform="translate(432.8,282.6) scale(0.900,0.986)"/>
<use href="#g3" transform="translate(444.1,282.6) scale(0.900,0.986)"/>
<use href="#g6" transform="translate(476.1,307.3) scale(0.900,0.986)"/>
<use href="#g2" transform="translate(487.5,307.3) scale(0.900,0.986)"/>
<use href="#g6" transform="translate(539.5,341.6) scale(0.900,0.986)"/>
<use href="#g1" transform="translate(550.9,341.6) scale(0.900,0.986)"/>
<use href="#g5" transform="translate(593.9,371.6) scale(0.900,0.986)"/>
<use href="#g7" transform="translate(605.3,371.6) scale(0.900,0.986)"/>
<use href="#g6" transform="translate(322.8,447.3) scale(0.900,0.986)"/>
<use href="#g0" transform="translate(334.1,447.3) scale(0.900,0.986)"/>
<use href="#g5" transform="translate(398.1,488.3) scale(0.900,0.986)"/>
<use href="#g8" transform="translate(409.5,488.3) scale(0.900,0.986)"/>
<use href="#gs" transform="translate(421.8,489.3)"/>
<use href="#g5" transform="translate(476.6,510.9) scale(0.900,0.986)"/>
<use href="#g9" transform="translate(488,510.9) scale(0.900,0.986)"/>
<use href="#g2" transform="translate(559.9,514.9) scale(0.900,0.986)"/>
<use href="#g5" transform="translate(571.3,514.9) scale(0.900,0.986)"/>
<use href="#gs" transform="translate(583.6,515.9)"/>
</g>

<g font-family="Liberation Sans, sans-serif" font-size="34.6"><text x="287.5" y="1450.8" textLength="177.3" lengthAdjust="spacingAndGlyphs" fill="#000" stroke="#fff" stroke-width="0.4">ПБЦ-М560</text><text x="476.1" y="1450.8" textLength="76.8" lengthAdjust="spacingAndGlyphs" fill="#000" stroke="#fff" stroke-width="0.4">45П.</text><text x="557.8" y="1450.8" textLength="89" lengthAdjust="spacingAndGlyphs" fill="#000" stroke="#fff" stroke-width="1.3">Схема</text><text x="652.9" y="1450.8" textLength="47.8" lengthAdjust="spacingAndGlyphs" fill="#000" stroke="#fff" stroke-width="1.3">1-2</text><text x="708.5" y="1450.8" textLength="210" lengthAdjust="spacingAndGlyphs" fill="#000" stroke="#fff" stroke-width="1.3">(Схема-состав.</text><text x="925" y="1450.8" textLength="155.7" lengthAdjust="spacingAndGlyphs" fill="#000" stroke="#fff" stroke-width="1.3">Двигатель)</text></g>
<rect x="0" y="1370.3" width="1500" height="1.3" fill="#222"/>
<rect x="31" y="1406.2" width="215.4" height="59.5" fill="#808084"/>
<g transform="translate(40,1410) scale(0.066667)" fill="#fff">
<polygon points="400,105 685,390 400,680 250,535 250,245"/>
<path fill="#808084" d="M240,252 L445,252 C490,252 518,285 518,325 C518,355 505,375 490,390 C505,405 520,425 520,455 C520,495 490,532 445,532 L240,532 Z"/>
<rect x="103" y="313" width="340" height="54" rx="27"/>
<rect x="103" y="418" width="340" height="54" rx="27"/>
<path d="M870,180 L1180,180 C1230,180 1262,215 1262,260 L1262,325 C1262,350 1245,372 1225,385 C1245,398 1262,420 1262,445 L1262,505 C1262,550 1230,585 1180,585 L870,585 L805,490 L1110,490 C1128,490 1135,480 1135,465 C1135,450 1128,440 1110,440 L955,440 L955,340 L1110,340 C1128,340 1135,330 1135,315 C1135,300 1128,290 1110,290 L805,290 Z"/>
</g>
<g transform="translate(120,1410) scale(0.08)" fill="#fff">
<path d="M95,150 L195,150 L195,265 C195,282 205,290 222,290 L390,290 L390,150 L490,150 L490,400 C490,455 455,490 400,490 L100,490 L100,402 L365,402 C382,402 390,395 390,380 L180,380 C125,380 95,345 95,295 Z"/>
<path fill-rule="evenodd" d="M545,150 L920,150 L920,245 L650,245 L650,290 L855,290 C910,290 942,330 942,380 L942,400 C942,450 910,490 855,490 L545,490 Z M672,365 L815,365 C830,365 838,372 838,383 C838,394 830,401 815,401 L672,401 C657,401 650,394 650,383 C650,372 657,365 672,365 Z"/>
<path fill-rule="evenodd" d="M990,150 L1305,150 C1355,150 1387,185 1387,230 L1387,295 C1387,340 1355,375 1305,375 L1095,375 L1095,490 L990,490 Z M1117,250 L1260,250 C1275,250 1283,258 1283,270 C1283,282 1275,290 1260,290 L1117,290 C1102,290 1095,282 1095,270 C1095,258 1102,250 1117,250 Z"/>
</g>

</svg>
</body></html>
